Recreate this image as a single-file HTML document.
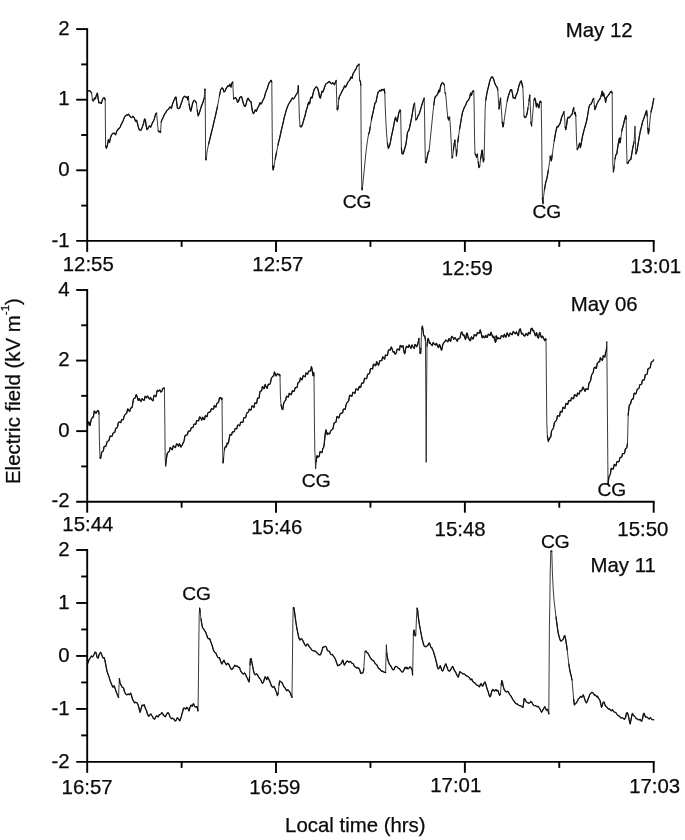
<!DOCTYPE html>
<html><head><meta charset="utf-8"><title>Electric field</title>
<style>html,body{margin:0;padding:0;background:#fff}svg{display:block}</style></head>
<body>
<svg width="685" height="840" viewBox="0 0 685 840">
<rect width="100%" height="100%" fill="#fff"/>
<g font-family="Liberation Sans, Arial, Helvetica, sans-serif" font-size="20.4" fill="#0a0a0a" stroke="#0a0a0a" stroke-width="0.25">
<line x1="87.20" y1="28.15" x2="87.20" y2="251.90" stroke="#000" stroke-width="1.9"/>
<line x1="76.20" y1="240.90" x2="654.65" y2="240.90" stroke="#000" stroke-width="1.9"/>
<line x1="76.20" y1="29.10" x2="87.20" y2="29.10" stroke="#000" stroke-width="1.9"/>
<text x="69.6" y="34.8" text-anchor="end">2</text>
<line x1="81.20" y1="64.40" x2="87.20" y2="64.40" stroke="#000" stroke-width="1.9"/>
<line x1="76.20" y1="99.70" x2="87.20" y2="99.70" stroke="#000" stroke-width="1.9"/>
<text x="69.6" y="105.4" text-anchor="end">1</text>
<line x1="81.20" y1="135.00" x2="87.20" y2="135.00" stroke="#000" stroke-width="1.9"/>
<line x1="76.20" y1="170.30" x2="87.20" y2="170.30" stroke="#000" stroke-width="1.9"/>
<text x="69.6" y="176.0" text-anchor="end">0</text>
<line x1="81.20" y1="205.60" x2="87.20" y2="205.60" stroke="#000" stroke-width="1.9"/>
<text x="69.6" y="246.6" text-anchor="end">-1</text>
<text x="62.77" y="271.40">12:55</text>
<line x1="181.62" y1="240.90" x2="181.62" y2="246.90" stroke="#000" stroke-width="1.9"/>
<line x1="276.03" y1="240.90" x2="276.03" y2="251.90" stroke="#000" stroke-width="1.9"/>
<text x="252.37" y="271.40">12:57</text>
<line x1="370.45" y1="240.90" x2="370.45" y2="246.90" stroke="#000" stroke-width="1.9"/>
<line x1="464.87" y1="240.90" x2="464.87" y2="251.90" stroke="#000" stroke-width="1.9"/>
<text x="441.87" y="274.70">12:59</text>
<line x1="559.28" y1="240.90" x2="559.28" y2="246.90" stroke="#000" stroke-width="1.9"/>
<line x1="653.70" y1="240.90" x2="653.70" y2="251.90" stroke="#000" stroke-width="1.9"/>
<text x="630.17" y="273.00">13:01</text>
<text x="565.77" y="37.20">May 12</text>
<path d="M88.0 91.0 L88.5 90.9 L89.0 90.8 L89.4 90.7 L89.8 90.7 L90.2 91.1 L90.6 91.5 L91.1 92.3 L91.6 93.0 L92.4 100.0 L92.9 100.4 L93.4 101.1 L93.9 99.7 L94.4 98.0 L94.9 98.4 L95.4 98.9 L95.9 97.0 L96.4 95.1 L96.9 94.1 L97.4 93.0 L98.2 99.0 L99.0 103.0 L99.4 102.7 L99.8 102.6 L100.2 102.5 L100.6 103.1 L101.0 103.2 L101.4 103.4 L101.8 101.9 L102.2 100.6 L102.6 99.2 L103.1 98.6 L103.6 97.9 L104.1 97.8 L104.6 97.9 L104.9 99.0 L105.2 100.0 L105.6 146.0 L106.0 147.1 L106.4 148.4 L106.9 146.8 L107.4 145.2 L107.9 142.6 L108.4 139.7 L108.9 141.1 L109.4 142.5 L109.9 140.5 L110.4 138.1 L110.8 136.9 L111.2 135.7 L111.6 134.8 L111.9 134.4 L112.3 134.0 L112.7 133.6 L113.0 133.2 L113.3 133.5 L113.7 133.4 L114.1 133.3 L114.4 133.2 L114.8 133.8 L115.2 134.3 L115.6 134.8 L116.1 133.5 L116.6 131.7 L116.9 131.0 L117.3 130.5 L117.7 129.9 L118.0 129.2 L118.3 128.9 L118.7 128.6 L119.1 128.4 L119.4 128.3 L119.8 127.6 L120.2 127.0 L120.6 126.1 L120.9 125.2 L121.3 124.3 L121.7 123.6 L122.0 123.0 L122.3 122.4 L122.7 121.7 L123.1 120.8 L123.4 119.9 L123.8 118.8 L124.2 117.9 L124.6 116.9 L124.9 116.5 L125.3 116.1 L125.7 115.7 L126.0 115.2 L126.3 115.2 L126.7 115.1 L127.1 115.2 L127.4 115.4 L127.9 114.8 L128.4 114.2 L128.9 115.0 L129.4 115.5 L129.8 115.8 L130.2 116.4 L130.6 117.1 L130.9 117.3 L131.3 117.5 L131.7 117.5 L132.0 117.4 L132.5 116.7 L133.0 116.1 L133.3 116.9 L133.7 117.3 L134.1 117.6 L134.4 118.1 L134.8 119.2 L135.2 120.3 L135.6 121.3 L136.1 120.7 L136.6 120.2 L137.1 122.1 L137.6 124.0 L138.1 126.2 L138.6 128.1 L139.1 129.1 L139.6 130.2 L139.9 130.2 L140.3 130.2 L140.7 130.2 L141.0 130.2 L141.3 129.5 L141.7 128.5 L142.1 127.5 L142.4 126.8 L142.8 125.6 L143.2 124.5 L143.6 123.4 L144.1 121.0 L144.6 118.9 L145.0 119.3 L145.4 120.0 L146.2 126.0 L146.6 127.7 L147.0 129.6 L147.4 129.1 L147.8 128.7 L148.2 128.2 L148.6 127.3 L149.0 126.5 L149.4 125.8 L149.8 126.3 L150.2 126.7 L150.6 127.2 L150.9 126.6 L151.3 125.6 L151.7 124.7 L152.0 123.8 L152.3 123.0 L152.7 122.3 L153.1 121.7 L153.4 121.1 L153.8 120.2 L154.2 119.3 L154.6 118.1 L155.0 116.3 L155.4 114.8 L155.8 113.5 L156.2 113.5 L156.6 113.0 L157.4 122.0 L158.2 131.0 L158.6 131.3 L159.0 132.0 L159.5 131.8 L160.0 131.1 L160.6 132.4 L161.2 122.0 L161.7 120.4 L162.2 119.1 L162.6 118.5 L163.0 117.7 L163.4 116.9 L163.8 115.8 L164.2 114.9 L164.6 114.0 L164.9 113.6 L165.3 113.1 L165.7 112.7 L166.0 112.1 L166.3 111.4 L166.7 110.8 L167.1 110.4 L167.4 110.0 L167.8 109.7 L168.2 109.5 L168.6 109.2 L168.9 108.5 L169.3 107.8 L169.7 107.2 L170.0 106.8 L170.3 107.2 L170.7 107.6 L171.1 108.0 L171.4 108.4 L171.8 106.8 L172.2 105.2 L172.6 103.7 L172.9 102.8 L173.3 102.0 L173.7 101.1 L174.0 100.3 L174.5 99.2 L175.0 97.8 L175.5 97.3 L176.0 97.0 L176.6 102.0 L177.4 108.0 L177.8 108.0 L178.2 108.3 L178.6 108.6 L179.0 108.5 L179.4 108.2 L179.8 107.8 L180.2 106.4 L180.6 105.2 L181.0 104.0 L181.3 103.2 L181.7 102.3 L182.1 101.2 L182.4 99.9 L182.8 98.7 L183.2 97.8 L183.6 97.0 L184.0 96.8 L184.4 96.7 L184.8 96.1 L185.2 96.5 L185.6 96.9 L186.0 97.4 L186.5 97.2 L187.0 97.0 L187.4 98.7 L187.8 100.0 L188.4 96.4 L189.0 104.0 L189.5 106.4 L190.0 109.0 L190.4 110.1 L190.8 111.2 L191.3 109.1 L191.8 107.0 L192.2 105.2 L192.6 103.5 L193.0 102.0 L193.4 101.4 L193.8 100.8 L194.2 100.2 L194.6 100.6 L195.0 100.9 L195.4 101.3 L195.9 102.2 L196.4 103.0 L197.2 110.0 L198.2 116.0 L198.6 114.8 L199.0 114.0 L199.4 112.8 L199.8 111.6 L200.2 110.3 L200.5 109.1 L200.9 107.9 L201.2 106.7 L201.6 105.7 L201.9 104.8 L202.3 103.9 L202.7 103.1 L203.0 102.2 L203.4 101.0 L203.8 99.4 L204.2 98.0 L204.8 89.0 L205.2 90.0 L205.6 158.0 L206.2 160.0 L207.0 152.0 L208.6 144.0 L209.0 142.3 L209.4 140.8 L209.8 139.4 L210.2 137.7 L210.6 136.0 L211.0 134.2 L211.4 132.5 L211.8 130.9 L212.2 129.3 L212.6 127.8 L213.0 126.2 L213.4 124.4 L213.8 122.6 L214.2 120.8 L214.6 119.2 L215.0 117.7 L215.4 116.1 L215.8 114.2 L216.3 112.0 L216.7 109.8 L217.2 108.0 L217.6 106.0 L219.4 96.0 L220.6 90.0 L220.9 89.3 L221.3 88.8 L221.7 88.3 L222.0 87.8 L222.0 87.8 L222.5 88.3 L223.0 88.8 L223.5 90.4 L224.0 92.0 L224.5 91.6 L225.0 91.2 L225.5 90.0 L226.0 88.7 L226.5 87.9 L227.0 87.1 L227.5 86.5 L228.0 85.6 L228.5 85.9 L229.0 86.3 L229.5 85.2 L230.0 84.1 L230.5 85.7 L231.0 87.2 L231.5 84.9 L232.0 82.8 L232.4 82.4 L232.8 82.0 L233.2 92.0 L233.6 99.0 L234.1 98.4 L234.6 98.1 L235.1 98.1 L235.6 97.7 L236.0 98.3 L236.4 98.9 L236.8 99.7 L237.2 101.1 L237.6 102.4 L238.1 101.9 L238.6 101.2 L239.1 99.5 L239.6 97.8 L240.1 97.3 L240.6 96.9 L241.1 96.8 L241.6 96.6 L242.0 98.4 L242.4 100.0 L242.9 101.5 L243.4 103.5 L243.9 104.9 L244.4 106.2 L244.9 106.4 L245.4 106.4 L245.8 104.9 L246.2 103.8 L246.6 101.9 L247.0 100.1 L247.5 99.3 L248.0 98.1 L248.5 98.9 L249.0 99.9 L249.5 100.6 L250.0 101.2 L250.5 101.3 L251.0 101.6 L251.6 106.0 L252.4 111.0 L252.9 112.2 L253.4 113.7 L253.9 113.1 L254.4 112.0 L254.9 110.7 L255.4 109.9 L255.9 110.6 L256.4 111.3 L256.8 110.1 L257.2 108.9 L257.6 107.8 L258.0 107.3 L258.4 106.7 L258.8 106.1 L259.2 105.1 L259.6 103.9 L260.0 102.7 L260.5 103.4 L261.0 104.1 L261.5 103.4 L262.0 102.5 L262.4 101.4 L262.8 100.5 L263.2 99.8 L263.6 99.0 L264.0 98.2 L264.4 97.4 L264.8 95.8 L265.2 94.2 L265.6 92.7 L266.1 91.5 L266.5 90.3 L267.0 89.2 L267.5 88.0 L267.9 86.4 L268.4 84.8 L268.8 83.7 L269.2 82.9 L269.6 82.0 L270.1 81.7 L270.5 81.2 L271.0 80.2 L271.4 80.9 L271.8 82.0 L272.2 130.0 L272.6 166.0 L273.2 170.0 L273.6 167.9 L274.0 166.0 L275.2 159.0 L275.6 157.1 L275.9 155.5 L276.2 154.0 L276.6 152.0 L278.0 145.0 L278.4 143.0 L278.8 141.4 L279.2 139.8 L279.6 138.3 L280.0 136.5 L280.4 134.6 L280.8 132.6 L281.2 130.7 L281.6 129.1 L282.0 127.5 L282.4 125.8 L282.8 124.2 L283.2 122.4 L283.6 120.5 L284.0 118.6 L284.4 116.9 L284.8 115.5 L285.2 114.1 L285.6 112.7 L286.0 111.1 L286.5 109.6 L286.9 108.2 L287.4 106.9 L287.8 106.0 L288.2 105.1 L288.6 104.2 L289.1 103.3 L289.5 102.5 L290.0 102.0 L290.4 101.4 L290.8 100.9 L291.2 100.0 L291.6 99.1 L292.0 98.5 L292.4 98.0 L292.8 98.5 L293.2 98.8 L293.6 98.9 L294.0 98.2 L294.4 97.7 L294.8 97.1 L295.2 96.5 L295.6 95.6 L296.0 94.8 L296.4 94.3 L296.8 93.7 L297.2 93.2 L297.6 92.1 L298.0 91.0 L298.4 85.6 L298.8 98.0 L299.4 118.0 L300.0 126.0 L300.5 126.4 L301.0 127.1 L301.5 126.5 L302.0 125.7 L302.5 124.2 L303.0 122.7 L303.5 120.9 L304.0 119.0 L304.4 117.8 L304.8 116.6 L305.2 115.0 L305.6 113.2 L306.0 111.5 L306.4 110.0 L306.8 108.8 L307.2 107.5 L307.6 106.0 L308.1 104.0 L308.6 102.3 L309.1 103.3 L309.6 104.0 L310.4 99.0 L310.8 97.9 L311.2 97.1 L311.6 97.8 L312.0 98.2 L312.5 96.0 L313.0 93.8 L313.5 91.8 L314.0 90.0 L314.5 89.1 L315.0 88.2 L315.5 87.6 L316.0 86.9 L316.4 87.0 L316.8 87.3 L317.2 87.6 L317.6 88.4 L318.0 89.2 L318.4 91.0 L318.8 92.7 L319.2 94.9 L319.6 97.1 L320.0 97.7 L320.4 98.1 L320.8 96.3 L321.2 94.7 L321.6 92.9 L322.0 91.1 L322.5 91.7 L323.0 92.0 L323.5 90.3 L324.0 89.0 L324.5 87.4 L325.0 85.8 L325.5 84.8 L326.0 83.7 L326.4 83.5 L326.8 83.2 L327.2 83.0 L327.6 82.8 L328.0 82.6 L328.4 82.1 L328.8 81.7 L329.2 81.5 L329.6 81.6 L330.1 82.5 L330.6 83.1 L331.1 83.3 L331.6 83.9 L332.1 83.3 L332.6 82.7 L333.1 83.2 L333.6 83.7 L334.0 84.2 L334.4 84.8 L334.9 83.5 L335.4 82.2 L335.8 81.5 L336.2 80.4 L336.6 96.0 L337.0 109.0 L337.3 109.3 L337.6 110.0 L338.2 106.0 L338.8 99.0 L339.2 97.4 L339.6 96.0 L340.1 95.1 L340.6 94.2 L341.1 93.2 L341.6 92.2 L342.1 91.1 L342.6 90.1 L343.1 89.4 L343.6 88.5 L344.1 87.1 L344.6 85.8 L345.1 86.4 L345.6 87.1 L346.1 86.2 L346.6 85.1 L347.1 83.9 L347.6 82.7 L348.0 82.2 L348.4 81.6 L348.8 81.1 L349.2 80.7 L349.6 80.4 L350.0 79.6 L350.5 78.0 L351.0 76.9 L351.5 77.7 L352.0 78.3 L352.5 76.0 L353.0 73.8 L353.5 72.9 L354.0 72.3 L354.5 71.3 L355.0 70.3 L355.5 69.8 L356.0 69.0 L356.5 67.4 L357.0 66.2 L357.5 65.7 L358.0 65.2 L358.5 64.9 L359.0 64.0 L359.0 65.0 L359.6 80.0 L360.0 80.7 L360.4 81.6 L360.8 85.0 L361.2 150.0 L361.8 188.0 L362.2 190.0 L363.0 182.0 L364.0 172.0 L365.0 162.0 L366.2 150.0 L367.4 141.0 L368.6 134.0 L369.0 132.9 L369.4 132.0 L370.2 127.0 L371.4 120.0 L371.8 117.9 L372.2 116.0 L372.6 114.1 L373.1 112.2 L373.5 110.1 L374.0 107.9 L374.5 105.3 L375.0 102.9 L375.5 102.6 L376.0 102.2 L376.5 99.5 L377.0 96.9 L377.5 94.7 L378.0 92.6 L378.5 92.0 L379.0 91.4 L379.5 90.7 L380.0 90.1 L380.5 90.7 L381.0 91.1 L381.5 90.1 L382.0 89.3 L382.5 89.7 L383.0 90.2 L383.4 90.0 L383.8 89.5 L384.2 89.0 L384.8 93.0 L385.2 106.0 L385.8 120.0 L386.6 134.0 L387.4 143.0 L388.4 148.4 L388.9 147.1 L389.4 146.1 L389.9 144.3 L390.4 142.2 L390.8 139.9 L391.2 137.7 L391.6 135.7 L392.1 133.4 L392.6 131.1 L393.1 128.7 L393.6 126.2 L394.1 123.5 L394.6 120.8 L395.1 118.9 L395.6 117.1 L396.0 118.7 L396.4 120.0 L396.8 120.7 L397.2 121.6 L398.0 117.0 L398.5 114.4 L399.0 112.1 L399.5 111.3 L400.0 109.9 L400.3 110.2 L400.6 111.0 L401.0 130.0 L401.4 148.0 L402.0 153.6 L402.5 153.7 L403.0 154.1 L403.5 152.8 L404.0 151.0 L404.5 149.3 L405.0 147.7 L405.5 145.9 L406.0 144.0 L406.8 138.0 L407.6 132.0 L408.1 131.3 L408.6 131.0 L409.1 129.2 L409.6 127.4 L410.1 125.0 L410.6 122.7 L411.1 120.3 L411.6 118.0 L412.6 112.0 L413.6 106.0 L414.1 104.4 L414.6 103.0 L415.2 110.0 L415.8 120.0 L416.3 119.4 L416.8 119.1 L417.3 117.8 L417.8 116.1 L418.3 115.4 L418.8 114.8 L419.3 113.4 L419.8 112.0 L420.2 110.8 L420.6 109.5 L421.0 108.1 L421.4 106.6 L421.8 105.0 L422.2 103.8 L422.6 102.6 L423.0 101.5 L423.4 100.3 L423.8 99.2 L424.2 98.0 L424.6 116.0 L425.0 146.0 L425.4 162.0 L425.7 162.3 L426.0 162.9 L426.5 160.6 L427.0 158.2 L427.5 155.6 L428.0 152.9 L428.5 151.8 L429.0 151.0 L429.8 144.0 L430.6 136.0 L431.4 128.0 L432.2 120.0 L433.0 112.0 L433.8 105.0 L434.6 99.0 L435.0 97.6 L435.4 96.4 L435.8 96.2 L436.2 96.1 L436.6 95.7 L437.0 95.0 L437.4 94.3 L437.8 93.8 L438.3 92.0 L438.8 90.1 L439.2 91.2 L439.6 92.0 L440.4 87.0 L440.9 85.3 L441.4 84.0 L441.9 83.4 L442.4 82.6 L442.9 83.0 L443.4 83.3 L443.9 84.2 L444.4 85.0 L445.0 93.0 L445.3 93.1 L445.6 93.6 L446.2 100.0 L447.0 110.0 L447.8 117.0 L448.2 118.4 L448.6 120.0 L449.1 118.7 L449.6 117.0 L450.2 124.0 L450.8 134.0 L451.4 146.0 L452.0 158.0 L452.3 157.3 L452.6 157.0 L453.4 150.0 L454.2 144.0 L454.6 141.8 L455.0 140.0 L455.8 148.0 L456.4 156.0 L457.0 150.0 L457.8 142.0 L458.6 136.0 L459.6 129.0 L460.6 123.0 L461.6 117.0 L462.1 114.3 L462.6 112.0 L463.1 110.7 L463.6 109.3 L464.1 108.0 L464.6 106.8 L465.1 106.0 L465.6 105.1 L466.1 103.9 L466.6 102.2 L467.1 101.5 L467.6 101.1 L468.1 100.7 L468.6 99.7 L469.1 98.7 L469.6 97.8 L470.1 95.4 L470.6 93.0 L471.0 94.1 L471.4 95.4 L471.8 93.8 L472.2 92.3 L472.6 91.3 L473.0 90.8 L473.4 90.9 L473.8 91.0 L474.2 110.0 L474.6 140.0 L475.0 154.0 L475.4 154.3 L475.8 154.9 L476.2 156.1 L476.6 157.3 L477.0 155.7 L477.4 154.0 L478.2 162.0 L479.0 167.6 L479.4 166.7 L479.8 166.0 L480.6 159.0 L481.4 154.0 L481.8 151.9 L482.2 150.0 L482.8 156.0 L483.4 162.0 L483.7 160.3 L484.0 159.0 L484.4 146.0 L484.8 126.0 L485.2 108.0 L485.8 100.0 L486.6 95.0 L487.1 92.4 L487.6 90.0 L488.1 88.2 L488.6 86.1 L489.1 83.9 L489.6 81.8 L490.1 80.1 L490.6 78.5 L491.1 77.9 L491.6 77.0 L492.1 76.7 L492.6 77.0 L493.1 78.3 L493.6 79.1 L494.1 80.9 L494.6 82.8 L495.1 83.8 L495.5 84.8 L496.0 85.8 L496.0 85.8 L496.5 86.5 L497.0 87.0 L497.4 88.3 L497.8 90.0 L498.4 100.0 L499.0 109.0 L499.8 104.0 L500.6 98.0 L501.4 110.0 L502.2 122.0 L503.0 127.0 L503.4 124.8 L503.8 123.0 L504.8 116.0 L506.0 108.0 L507.2 101.0 L507.6 99.2 L508.0 97.6 L508.4 96.0 L508.8 94.8 L509.2 93.6 L509.6 92.2 L510.1 90.9 L510.6 89.7 L511.1 89.6 L511.6 89.6 L512.0 91.5 L512.4 93.0 L513.2 98.0 L513.7 97.6 L514.2 97.6 L514.7 98.2 L515.2 98.6 L515.7 96.7 L516.2 94.8 L516.7 94.0 L517.2 93.1 L517.7 91.1 L518.2 88.9 L518.7 86.8 L519.2 85.0 L519.7 83.7 L520.2 82.1 L520.7 81.4 L521.2 80.8 L521.6 82.4 L522.0 84.0 L522.4 85.6 L522.8 87.0 L523.4 100.0 L524.0 116.0 L524.5 116.7 L525.0 117.6 L525.5 117.5 L526.0 117.1 L526.5 115.4 L527.0 114.0 L528.0 108.0 L529.0 101.0 L529.8 95.0 L530.4 108.0 L531.0 122.0 L531.6 126.0 L532.4 118.0 L533.2 108.0 L534.0 100.0 L534.4 98.9 L534.8 98.0 L535.2 99.6 L535.6 101.0 L536.4 107.0 L536.8 105.1 L537.2 103.5 L537.6 104.3 L538.0 105.2 L538.4 106.8 L538.8 108.0 L539.6 103.0 L540.0 101.8 L540.4 101.0 L540.8 101.9 L541.2 102.4 L541.6 130.0 L542.0 170.0 L542.4 198.0 L543.0 203.6 L543.6 196.4 L544.4 190.0 L545.4 184.0 L545.9 181.9 L546.4 180.1 L546.9 178.3 L547.4 176.0 L548.4 170.0 L549.4 163.0 L550.2 156.0 L550.8 159.0 L551.1 159.8 L551.4 161.0 L552.2 155.0 L553.2 148.0 L554.2 141.0 L555.2 135.0 L555.7 132.4 L556.2 130.0 L556.7 128.1 L557.2 126.3 L557.7 126.6 L558.2 126.9 L558.7 125.7 L559.2 124.9 L559.7 124.0 L560.2 123.2 L560.7 121.2 L561.2 119.0 L561.7 117.2 L562.2 115.9 L562.7 114.9 L563.2 113.8 L563.6 112.7 L564.0 111.6 L564.6 118.0 L565.2 127.0 L565.8 129.6 L566.6 125.0 L567.4 119.0 L567.8 117.9 L568.2 117.1 L568.7 117.6 L569.2 117.9 L569.7 117.1 L570.2 116.4 L570.7 115.8 L571.2 115.1 L571.7 114.4 L572.2 114.0 L573.0 110.0 L573.4 108.7 L573.8 107.6 L574.4 114.0 L574.8 113.1 L575.2 112.4 L575.8 116.0 L576.2 130.0 L576.6 142.0 L577.2 149.6 L577.6 148.9 L578.0 148.4 L578.4 147.1 L578.8 145.7 L579.2 144.6 L579.6 143.0 L580.4 147.6 L580.8 145.6 L581.2 144.0 L582.0 139.0 L582.5 136.4 L583.0 134.1 L583.5 132.3 L584.0 130.1 L584.5 128.4 L585.0 126.8 L585.5 125.0 L586.0 123.1 L586.5 121.3 L587.0 119.0 L588.0 113.0 L589.0 107.0 L589.5 105.6 L590.0 104.5 L590.5 104.4 L591.0 104.1 L591.5 103.1 L592.0 102.2 L592.5 100.6 L593.0 99.0 L593.4 98.8 L593.8 98.4 L594.4 106.0 L595.0 109.6 L595.4 108.2 L595.8 107.0 L596.3 105.6 L596.8 104.2 L597.3 103.3 L597.8 102.3 L598.3 101.2 L598.8 100.4 L599.3 99.8 L599.8 99.3 L600.3 97.9 L600.8 96.7 L601.2 95.4 L601.6 94.1 L601.9 92.7 L602.2 91.0 L602.8 96.0 L603.2 94.3 L603.6 93.0 L604.4 97.0 L604.7 97.3 L605.0 98.0 L605.6 102.4 L606.4 98.0 L606.9 97.1 L607.4 96.5 L607.9 95.9 L608.4 95.2 L608.9 94.4 L609.4 93.7 L609.9 92.9 L610.4 92.1 L610.9 91.8 L611.4 91.2 L611.8 92.0 L612.2 93.0 L612.4 130.0 L612.8 164.0 L613.4 172.0 L614.2 166.0 L615.0 159.0 L615.8 155.0 L616.3 154.4 L616.8 154.0 L617.6 148.0 L618.6 142.0 L619.4 138.0 L620.0 143.0 L620.8 138.0 L621.8 131.0 L622.3 128.9 L622.8 127.1 L623.3 125.3 L623.8 123.1 L624.3 120.8 L624.8 118.8 L625.2 117.5 L625.6 116.1 L625.8 115.6 L626.2 119.0 L626.6 146.0 L627.0 163.0 L627.4 163.1 L627.8 163.6 L628.3 162.5 L628.8 161.2 L629.2 160.7 L629.6 160.2 L630.0 159.8 L630.4 159.7 L630.8 159.6 L631.6 155.0 L632.4 150.0 L632.8 147.8 L633.2 146.0 L634.0 142.0 L634.6 134.0 L635.0 126.0 L635.4 140.0 L635.8 154.0 L636.2 152.8 L636.6 152.0 L637.1 149.6 L637.6 147.0 L638.6 141.0 L639.6 135.0 L640.1 132.4 L640.6 130.0 L641.1 128.2 L641.6 126.2 L642.1 123.9 L642.6 121.7 L643.1 120.4 L643.6 119.1 L644.1 117.7 L644.6 116.1 L645.1 114.7 L645.6 113.3 L646.1 111.8 L646.6 110.4 L647.2 116.0 L647.8 128.0 L648.4 134.0 L649.2 129.0 L650.0 120.0 L651.0 112.0 L651.5 109.8 L652.0 108.0 L652.5 105.7 L653.0 103.0 L653.8 98.4" fill="none" stroke="#161616" stroke-width="0.85" stroke-linejoin="round"/>
<path d="M88.0 91.0 L88.5 90.9 L89.0 90.8 L89.4 90.7 L89.8 90.7 L90.2 91.1 L90.6 91.5 L91.1 92.3 L91.6 93.0 M92.4 100.0 L92.9 100.4 L93.4 101.1 L93.9 99.7 L94.4 98.0 L94.9 98.4 L95.4 98.9 L95.9 97.0 L96.4 95.1 L96.9 94.1 L97.4 93.0 L98.2 99.0 L99.0 103.0 L99.4 102.7 L99.8 102.6 L100.2 102.5 L100.6 103.1 L101.0 103.2 L101.4 103.4 L101.8 101.9 L102.2 100.6 L102.6 99.2 L103.1 98.6 L103.6 97.9 L104.1 97.8 L104.6 97.9 L104.9 99.0 L105.2 100.0 M105.6 146.0 L106.0 147.1 L106.4 148.4 L106.9 146.8 L107.4 145.2 L107.9 142.6 L108.4 139.7 L108.9 141.1 L109.4 142.5 L109.9 140.5 L110.4 138.1 L110.8 136.9 L111.2 135.7 L111.6 134.8 L111.9 134.4 L112.3 134.0 L112.7 133.6 L113.0 133.2 L113.3 133.5 L113.7 133.4 L114.1 133.3 L114.4 133.2 L114.8 133.8 L115.2 134.3 L115.6 134.8 L116.1 133.5 L116.6 131.7 L116.9 131.0 L117.3 130.5 L117.7 129.9 L118.0 129.2 L118.3 128.9 L118.7 128.6 L119.1 128.4 L119.4 128.3 L119.8 127.6 L120.2 127.0 L120.6 126.1 L120.9 125.2 L121.3 124.3 L121.7 123.6 L122.0 123.0 L122.3 122.4 L122.7 121.7 L123.1 120.8 L123.4 119.9 L123.8 118.8 L124.2 117.9 L124.6 116.9 L124.9 116.5 L125.3 116.1 L125.7 115.7 L126.0 115.2 L126.3 115.2 L126.7 115.1 L127.1 115.2 L127.4 115.4 L127.9 114.8 L128.4 114.2 L128.9 115.0 L129.4 115.5 L129.8 115.8 L130.2 116.4 L130.6 117.1 L130.9 117.3 L131.3 117.5 L131.7 117.5 L132.0 117.4 L132.5 116.7 L133.0 116.1 L133.3 116.9 L133.7 117.3 L134.1 117.6 L134.4 118.1 L134.8 119.2 L135.2 120.3 L135.6 121.3 L136.1 120.7 L136.6 120.2 L137.1 122.1 L137.6 124.0 L138.1 126.2 L138.6 128.1 L139.1 129.1 L139.6 130.2 L139.9 130.2 L140.3 130.2 L140.7 130.2 L141.0 130.2 L141.3 129.5 L141.7 128.5 L142.1 127.5 L142.4 126.8 L142.8 125.6 L143.2 124.5 L143.6 123.4 L144.1 121.0 L144.6 118.9 L145.0 119.3 L145.4 120.0 L146.2 126.0 L146.6 127.7 L147.0 129.6 L147.4 129.1 L147.8 128.7 L148.2 128.2 L148.6 127.3 L149.0 126.5 L149.4 125.8 L149.8 126.3 L150.2 126.7 L150.6 127.2 L150.9 126.6 L151.3 125.6 L151.7 124.7 L152.0 123.8 L152.3 123.0 L152.7 122.3 L153.1 121.7 L153.4 121.1 L153.8 120.2 L154.2 119.3 L154.6 118.1 L155.0 116.3 L155.4 114.8 L155.8 113.5 L156.2 113.5 L156.6 113.0 M158.2 131.0 L158.6 131.3 L159.0 132.0 L159.5 131.8 L160.0 131.1 L160.6 132.4 M161.2 122.0 L161.7 120.4 L162.2 119.1 L162.6 118.5 L163.0 117.7 L163.4 116.9 L163.8 115.8 L164.2 114.9 L164.6 114.0 L164.9 113.6 L165.3 113.1 L165.7 112.7 L166.0 112.1 L166.3 111.4 L166.7 110.8 L167.1 110.4 L167.4 110.0 L167.8 109.7 L168.2 109.5 L168.6 109.2 L168.9 108.5 L169.3 107.8 L169.7 107.2 L170.0 106.8 L170.3 107.2 L170.7 107.6 L171.1 108.0 L171.4 108.4 L171.8 106.8 L172.2 105.2 L172.6 103.7 L172.9 102.8 L173.3 102.0 L173.7 101.1 L174.0 100.3 L174.5 99.2 L175.0 97.8 L175.5 97.3 L176.0 97.0 L176.6 102.0 L177.4 108.0 L177.8 108.0 L178.2 108.3 L178.6 108.6 L179.0 108.5 L179.4 108.2 L179.8 107.8 L180.2 106.4 L180.6 105.2 L181.0 104.0 L181.3 103.2 L181.7 102.3 L182.1 101.2 L182.4 99.9 L182.8 98.7 L183.2 97.8 L183.6 97.0 L184.0 96.8 L184.4 96.7 L184.8 96.1 L185.2 96.5 L185.6 96.9 L186.0 97.4 L186.5 97.2 L187.0 97.0 L187.4 98.7 L187.8 100.0 L188.4 96.4 M189.0 104.0 L189.5 106.4 L190.0 109.0 L190.4 110.1 L190.8 111.2 L191.3 109.1 L191.8 107.0 L192.2 105.2 L192.6 103.5 L193.0 102.0 L193.4 101.4 L193.8 100.8 L194.2 100.2 L194.6 100.6 L195.0 100.9 L195.4 101.3 L195.9 102.2 L196.4 103.0 M197.2 110.0 L198.2 116.0 L198.6 114.8 L199.0 114.0 L199.4 112.8 L199.8 111.6 L200.2 110.3 L200.5 109.1 L200.9 107.9 L201.2 106.7 L201.6 105.7 L201.9 104.8 L202.3 103.9 L202.7 103.1 L203.0 102.2 L203.4 101.0 L203.8 99.4 L204.2 98.0 M204.8 89.0 L205.2 90.0 M205.6 158.0 L206.2 160.0 M208.6 144.0 L209.0 142.3 L209.4 140.8 L209.8 139.4 L210.2 137.7 L210.6 136.0 L211.0 134.2 L211.4 132.5 L211.8 130.9 L212.2 129.3 L212.6 127.8 L213.0 126.2 L213.4 124.4 L213.8 122.6 L214.2 120.8 L214.6 119.2 L215.0 117.7 L215.4 116.1 L215.8 114.2 L216.3 112.0 L216.7 109.8 L217.2 108.0 L217.6 106.0 M219.4 96.0 L220.6 90.0 L220.9 89.3 L221.3 88.8 L221.7 88.3 L222.0 87.8 L222.0 87.8 L222.5 88.3 L223.0 88.8 L223.5 90.4 L224.0 92.0 L224.5 91.6 L225.0 91.2 L225.5 90.0 L226.0 88.7 L226.5 87.9 L227.0 87.1 L227.5 86.5 L228.0 85.6 L228.5 85.9 L229.0 86.3 L229.5 85.2 L230.0 84.1 L230.5 85.7 L231.0 87.2 L231.5 84.9 L232.0 82.8 L232.4 82.4 L232.8 82.0 M233.6 99.0 L234.1 98.4 L234.6 98.1 L235.1 98.1 L235.6 97.7 L236.0 98.3 L236.4 98.9 L236.8 99.7 L237.2 101.1 L237.6 102.4 L238.1 101.9 L238.6 101.2 L239.1 99.5 L239.6 97.8 L240.1 97.3 L240.6 96.9 L241.1 96.8 L241.6 96.6 L242.0 98.4 L242.4 100.0 L242.9 101.5 L243.4 103.5 L243.9 104.9 L244.4 106.2 L244.9 106.4 L245.4 106.4 L245.8 104.9 L246.2 103.8 L246.6 101.9 L247.0 100.1 L247.5 99.3 L248.0 98.1 L248.5 98.9 L249.0 99.9 L249.5 100.6 L250.0 101.2 L250.5 101.3 L251.0 101.6 L251.6 106.0 L252.4 111.0 L252.9 112.2 L253.4 113.7 L253.9 113.1 L254.4 112.0 L254.9 110.7 L255.4 109.9 L255.9 110.6 L256.4 111.3 L256.8 110.1 L257.2 108.9 L257.6 107.8 L258.0 107.3 L258.4 106.7 L258.8 106.1 L259.2 105.1 L259.6 103.9 L260.0 102.7 L260.5 103.4 L261.0 104.1 L261.5 103.4 L262.0 102.5 L262.4 101.4 L262.8 100.5 L263.2 99.8 L263.6 99.0 L264.0 98.2 L264.4 97.4 L264.8 95.8 L265.2 94.2 L265.6 92.7 L266.1 91.5 L266.5 90.3 L267.0 89.2 L267.5 88.0 L267.9 86.4 L268.4 84.8 L268.8 83.7 L269.2 82.9 L269.6 82.0 L270.1 81.7 L270.5 81.2 L271.0 80.2 L271.4 80.9 L271.8 82.0 M272.6 166.0 L273.2 170.0 L273.6 167.9 L274.0 166.0 M275.2 159.0 L275.6 157.1 L275.9 155.5 L276.2 154.0 L276.6 152.0 M278.0 145.0 L278.4 143.0 L278.8 141.4 L279.2 139.8 L279.6 138.3 L280.0 136.5 L280.4 134.6 L280.8 132.6 L281.2 130.7 L281.6 129.1 L282.0 127.5 L282.4 125.8 L282.8 124.2 L283.2 122.4 L283.6 120.5 L284.0 118.6 L284.4 116.9 L284.8 115.5 L285.2 114.1 L285.6 112.7 L286.0 111.1 L286.5 109.6 L286.9 108.2 L287.4 106.9 L287.8 106.0 L288.2 105.1 L288.6 104.2 L289.1 103.3 L289.5 102.5 L290.0 102.0 L290.4 101.4 L290.8 100.9 L291.2 100.0 L291.6 99.1 L292.0 98.5 L292.4 98.0 L292.8 98.5 L293.2 98.8 L293.6 98.9 L294.0 98.2 L294.4 97.7 L294.8 97.1 L295.2 96.5 L295.6 95.6 L296.0 94.8 L296.4 94.3 L296.8 93.7 L297.2 93.2 L297.6 92.1 L298.0 91.0 L298.4 85.6 M300.0 126.0 L300.5 126.4 L301.0 127.1 L301.5 126.5 L302.0 125.7 L302.5 124.2 L303.0 122.7 L303.5 120.9 L304.0 119.0 L304.4 117.8 L304.8 116.6 L305.2 115.0 L305.6 113.2 L306.0 111.5 L306.4 110.0 L306.8 108.8 L307.2 107.5 L307.6 106.0 L308.1 104.0 L308.6 102.3 L309.1 103.3 L309.6 104.0 L310.4 99.0 L310.8 97.9 L311.2 97.1 L311.6 97.8 L312.0 98.2 L312.5 96.0 L313.0 93.8 L313.5 91.8 L314.0 90.0 L314.5 89.1 L315.0 88.2 L315.5 87.6 L316.0 86.9 L316.4 87.0 L316.8 87.3 L317.2 87.6 L317.6 88.4 L318.0 89.2 L318.4 91.0 L318.8 92.7 L319.2 94.9 L319.6 97.1 L320.0 97.7 L320.4 98.1 L320.8 96.3 L321.2 94.7 L321.6 92.9 L322.0 91.1 L322.5 91.7 L323.0 92.0 L323.5 90.3 L324.0 89.0 L324.5 87.4 L325.0 85.8 L325.5 84.8 L326.0 83.7 L326.4 83.5 L326.8 83.2 L327.2 83.0 L327.6 82.8 L328.0 82.6 L328.4 82.1 L328.8 81.7 L329.2 81.5 L329.6 81.6 L330.1 82.5 L330.6 83.1 L331.1 83.3 L331.6 83.9 L332.1 83.3 L332.6 82.7 L333.1 83.2 L333.6 83.7 L334.0 84.2 L334.4 84.8 L334.9 83.5 L335.4 82.2 L335.8 81.5 L336.2 80.4 M337.0 109.0 L337.3 109.3 L337.6 110.0 L338.2 106.0 M338.8 99.0 L339.2 97.4 L339.6 96.0 L340.1 95.1 L340.6 94.2 L341.1 93.2 L341.6 92.2 L342.1 91.1 L342.6 90.1 L343.1 89.4 L343.6 88.5 L344.1 87.1 L344.6 85.8 L345.1 86.4 L345.6 87.1 L346.1 86.2 L346.6 85.1 L347.1 83.9 L347.6 82.7 L348.0 82.2 L348.4 81.6 L348.8 81.1 L349.2 80.7 L349.6 80.4 L350.0 79.6 L350.5 78.0 L351.0 76.9 L351.5 77.7 L352.0 78.3 L352.5 76.0 L353.0 73.8 L353.5 72.9 L354.0 72.3 L354.5 71.3 L355.0 70.3 L355.5 69.8 L356.0 69.0 L356.5 67.4 L357.0 66.2 L357.5 65.7 L358.0 65.2 L358.5 64.9 L359.0 64.0 L359.0 65.0 M359.6 80.0 L360.0 80.7 L360.4 81.6 L360.8 85.0 M361.8 188.0 L362.2 190.0 M368.6 134.0 L369.0 132.9 L369.4 132.0 L370.2 127.0 M371.4 120.0 L371.8 117.9 L372.2 116.0 L372.6 114.1 L373.1 112.2 L373.5 110.1 L374.0 107.9 L374.5 105.3 L375.0 102.9 L375.5 102.6 L376.0 102.2 L376.5 99.5 L377.0 96.9 L377.5 94.7 L378.0 92.6 L378.5 92.0 L379.0 91.4 L379.5 90.7 L380.0 90.1 L380.5 90.7 L381.0 91.1 L381.5 90.1 L382.0 89.3 L382.5 89.7 L383.0 90.2 L383.4 90.0 L383.8 89.5 L384.2 89.0 L384.8 93.0 M387.4 143.0 L388.4 148.4 L388.9 147.1 L389.4 146.1 L389.9 144.3 L390.4 142.2 L390.8 139.9 L391.2 137.7 L391.6 135.7 L392.1 133.4 L392.6 131.1 L393.1 128.7 L393.6 126.2 L394.1 123.5 L394.6 120.8 L395.1 118.9 L395.6 117.1 L396.0 118.7 L396.4 120.0 L396.8 120.7 L397.2 121.6 L398.0 117.0 L398.5 114.4 L399.0 112.1 L399.5 111.3 L400.0 109.9 L400.3 110.2 L400.6 111.0 M401.4 148.0 L402.0 153.6 L402.5 153.7 L403.0 154.1 L403.5 152.8 L404.0 151.0 L404.5 149.3 L405.0 147.7 L405.5 145.9 L406.0 144.0 L406.8 138.0 L407.6 132.0 L408.1 131.3 L408.6 131.0 L409.1 129.2 L409.6 127.4 L410.1 125.0 L410.6 122.7 L411.1 120.3 L411.6 118.0 L412.6 112.0 L413.6 106.0 L414.1 104.4 L414.6 103.0 M415.8 120.0 L416.3 119.4 L416.8 119.1 L417.3 117.8 L417.8 116.1 L418.3 115.4 L418.8 114.8 L419.3 113.4 L419.8 112.0 L420.2 110.8 L420.6 109.5 L421.0 108.1 L421.4 106.6 L421.8 105.0 L422.2 103.8 L422.6 102.6 L423.0 101.5 L423.4 100.3 L423.8 99.2 L424.2 98.0 M425.4 162.0 L425.7 162.3 L426.0 162.9 L426.5 160.6 L427.0 158.2 L427.5 155.6 L428.0 152.9 L428.5 151.8 L429.0 151.0 M433.8 105.0 L434.6 99.0 L435.0 97.6 L435.4 96.4 L435.8 96.2 L436.2 96.1 L436.6 95.7 L437.0 95.0 L437.4 94.3 L437.8 93.8 L438.3 92.0 L438.8 90.1 L439.2 91.2 L439.6 92.0 L440.4 87.0 L440.9 85.3 L441.4 84.0 L441.9 83.4 L442.4 82.6 L442.9 83.0 L443.4 83.3 L443.9 84.2 L444.4 85.0 M445.0 93.0 L445.3 93.1 L445.6 93.6 M447.8 117.0 L448.2 118.4 L448.6 120.0 L449.1 118.7 L449.6 117.0 M452.0 158.0 L452.3 157.3 L452.6 157.0 M453.4 150.0 L454.2 144.0 L454.6 141.8 L455.0 140.0 M456.4 156.0 L457.0 150.0 M457.8 142.0 L458.6 136.0 M459.6 129.0 L460.6 123.0 L461.6 117.0 L462.1 114.3 L462.6 112.0 L463.1 110.7 L463.6 109.3 L464.1 108.0 L464.6 106.8 L465.1 106.0 L465.6 105.1 L466.1 103.9 L466.6 102.2 L467.1 101.5 L467.6 101.1 L468.1 100.7 L468.6 99.7 L469.1 98.7 L469.6 97.8 L470.1 95.4 L470.6 93.0 L471.0 94.1 L471.4 95.4 L471.8 93.8 L472.2 92.3 L472.6 91.3 L473.0 90.8 L473.4 90.9 L473.8 91.0 M475.0 154.0 L475.4 154.3 L475.8 154.9 L476.2 156.1 L476.6 157.3 L477.0 155.7 L477.4 154.0 M478.2 162.0 L479.0 167.6 L479.4 166.7 L479.8 166.0 M480.6 159.0 L481.4 154.0 L481.8 151.9 L482.2 150.0 L482.8 156.0 L483.4 162.0 L483.7 160.3 L484.0 159.0 M485.8 100.0 L486.6 95.0 L487.1 92.4 L487.6 90.0 L488.1 88.2 L488.6 86.1 L489.1 83.9 L489.6 81.8 L490.1 80.1 L490.6 78.5 L491.1 77.9 L491.6 77.0 L492.1 76.7 L492.6 77.0 L493.1 78.3 L493.6 79.1 L494.1 80.9 L494.6 82.8 L495.1 83.8 L495.5 84.8 L496.0 85.8 L496.0 85.8 L496.5 86.5 L497.0 87.0 L497.4 88.3 L497.8 90.0 M499.0 109.0 L499.8 104.0 L500.6 98.0 M502.2 122.0 L503.0 127.0 L503.4 124.8 L503.8 123.0 M507.2 101.0 L507.6 99.2 L508.0 97.6 L508.4 96.0 L508.8 94.8 L509.2 93.6 L509.6 92.2 L510.1 90.9 L510.6 89.7 L511.1 89.6 L511.6 89.6 L512.0 91.5 L512.4 93.0 L513.2 98.0 L513.7 97.6 L514.2 97.6 L514.7 98.2 L515.2 98.6 L515.7 96.7 L516.2 94.8 L516.7 94.0 L517.2 93.1 L517.7 91.1 L518.2 88.9 L518.7 86.8 L519.2 85.0 L519.7 83.7 L520.2 82.1 L520.7 81.4 L521.2 80.8 L521.6 82.4 L522.0 84.0 L522.4 85.6 L522.8 87.0 M524.0 116.0 L524.5 116.7 L525.0 117.6 L525.5 117.5 L526.0 117.1 L526.5 115.4 L527.0 114.0 L528.0 108.0 M529.0 101.0 L529.8 95.0 M531.0 122.0 L531.6 126.0 M534.0 100.0 L534.4 98.9 L534.8 98.0 L535.2 99.6 L535.6 101.0 L536.4 107.0 L536.8 105.1 L537.2 103.5 L537.6 104.3 L538.0 105.2 L538.4 106.8 L538.8 108.0 L539.6 103.0 L540.0 101.8 L540.4 101.0 L540.8 101.9 L541.2 102.4 M542.4 198.0 L543.0 203.6 M544.4 190.0 L545.4 184.0 L545.9 181.9 L546.4 180.1 L546.9 178.3 L547.4 176.0 L548.4 170.0 M550.2 156.0 L550.8 159.0 L551.1 159.8 L551.4 161.0 L552.2 155.0 M554.2 141.0 L555.2 135.0 L555.7 132.4 L556.2 130.0 L556.7 128.1 L557.2 126.3 L557.7 126.6 L558.2 126.9 L558.7 125.7 L559.2 124.9 L559.7 124.0 L560.2 123.2 L560.7 121.2 L561.2 119.0 L561.7 117.2 L562.2 115.9 L562.7 114.9 L563.2 113.8 L563.6 112.7 L564.0 111.6 M565.2 127.0 L565.8 129.6 L566.6 125.0 L567.4 119.0 L567.8 117.9 L568.2 117.1 L568.7 117.6 L569.2 117.9 L569.7 117.1 L570.2 116.4 L570.7 115.8 L571.2 115.1 L571.7 114.4 L572.2 114.0 L573.0 110.0 L573.4 108.7 L573.8 107.6 M574.4 114.0 L574.8 113.1 L575.2 112.4 L575.8 116.0 M577.2 149.6 L577.6 148.9 L578.0 148.4 L578.4 147.1 L578.8 145.7 L579.2 144.6 L579.6 143.0 L580.4 147.6 L580.8 145.6 L581.2 144.0 L582.0 139.0 L582.5 136.4 L583.0 134.1 L583.5 132.3 L584.0 130.1 L584.5 128.4 L585.0 126.8 L585.5 125.0 L586.0 123.1 L586.5 121.3 L587.0 119.0 L588.0 113.0 L589.0 107.0 L589.5 105.6 L590.0 104.5 L590.5 104.4 L591.0 104.1 L591.5 103.1 L592.0 102.2 L592.5 100.6 L593.0 99.0 L593.4 98.8 L593.8 98.4 M594.4 106.0 L595.0 109.6 L595.4 108.2 L595.8 107.0 L596.3 105.6 L596.8 104.2 L597.3 103.3 L597.8 102.3 L598.3 101.2 L598.8 100.4 L599.3 99.8 L599.8 99.3 L600.3 97.9 L600.8 96.7 L601.2 95.4 L601.6 94.1 L601.9 92.7 L602.2 91.0 L602.8 96.0 L603.2 94.3 L603.6 93.0 L604.4 97.0 L604.7 97.3 L605.0 98.0 L605.6 102.4 L606.4 98.0 L606.9 97.1 L607.4 96.5 L607.9 95.9 L608.4 95.2 L608.9 94.4 L609.4 93.7 L609.9 92.9 L610.4 92.1 L610.9 91.8 L611.4 91.2 L611.8 92.0 L612.2 93.0 M613.4 172.0 L614.2 166.0 M615.0 159.0 L615.8 155.0 L616.3 154.4 L616.8 154.0 L617.6 148.0 L618.6 142.0 L619.4 138.0 L620.0 143.0 L620.8 138.0 M621.8 131.0 L622.3 128.9 L622.8 127.1 L623.3 125.3 L623.8 123.1 L624.3 120.8 L624.8 118.8 L625.2 117.5 L625.6 116.1 L625.8 115.6 L626.2 119.0 M627.0 163.0 L627.4 163.1 L627.8 163.6 L628.3 162.5 L628.8 161.2 L629.2 160.7 L629.6 160.2 L630.0 159.8 L630.4 159.7 L630.8 159.6 L631.6 155.0 L632.4 150.0 L632.8 147.8 L633.2 146.0 L634.0 142.0 M635.8 154.0 L636.2 152.8 L636.6 152.0 L637.1 149.6 L637.6 147.0 L638.6 141.0 L639.6 135.0 L640.1 132.4 L640.6 130.0 L641.1 128.2 L641.6 126.2 L642.1 123.9 L642.6 121.7 L643.1 120.4 L643.6 119.1 L644.1 117.7 L644.6 116.1 L645.1 114.7 L645.6 113.3 L646.1 111.8 L646.6 110.4 L647.2 116.0 M647.8 128.0 L648.4 134.0 L649.2 129.0 M651.0 112.0 L651.5 109.8 L652.0 108.0 L652.5 105.7 L653.0 103.0 L653.8 98.4" fill="none" stroke="#111" stroke-width="1.25" stroke-linejoin="round" stroke-linecap="round"/>
<line x1="87.20" y1="289.05" x2="87.20" y2="512.70" stroke="#000" stroke-width="1.9"/>
<line x1="76.20" y1="501.70" x2="654.65" y2="501.70" stroke="#000" stroke-width="1.9"/>
<line x1="76.20" y1="290.00" x2="87.20" y2="290.00" stroke="#000" stroke-width="1.9"/>
<text x="69.6" y="295.7" text-anchor="end">4</text>
<line x1="81.20" y1="325.28" x2="87.20" y2="325.28" stroke="#000" stroke-width="1.9"/>
<line x1="76.20" y1="360.57" x2="87.20" y2="360.57" stroke="#000" stroke-width="1.9"/>
<text x="69.6" y="366.3" text-anchor="end">2</text>
<line x1="81.20" y1="395.85" x2="87.20" y2="395.85" stroke="#000" stroke-width="1.9"/>
<line x1="76.20" y1="431.13" x2="87.20" y2="431.13" stroke="#000" stroke-width="1.9"/>
<text x="69.6" y="436.8" text-anchor="end">0</text>
<line x1="81.20" y1="466.42" x2="87.20" y2="466.42" stroke="#000" stroke-width="1.9"/>
<text x="69.6" y="507.4" text-anchor="end">-2</text>
<text x="62.37" y="530.90">15:44</text>
<line x1="181.62" y1="501.70" x2="181.62" y2="507.70" stroke="#000" stroke-width="1.9"/>
<line x1="276.03" y1="501.70" x2="276.03" y2="512.70" stroke="#000" stroke-width="1.9"/>
<text x="251.27" y="534.30">15:46</text>
<line x1="370.45" y1="501.70" x2="370.45" y2="507.70" stroke="#000" stroke-width="1.9"/>
<line x1="464.87" y1="501.70" x2="464.87" y2="512.70" stroke="#000" stroke-width="1.9"/>
<text x="434.57" y="535.50">15:48</text>
<line x1="559.28" y1="501.70" x2="559.28" y2="507.70" stroke="#000" stroke-width="1.9"/>
<line x1="653.70" y1="501.70" x2="653.70" y2="512.70" stroke="#000" stroke-width="1.9"/>
<text x="617.37" y="535.50">15:50</text>
<text x="570.77" y="310.50">May 06</text>
<path d="M88.0 425.0 L88.5 421.9 L89.0 422.1 L89.5 423.8 L90.0 425.5 L90.5 423.1 L91.0 420.4 L91.4 419.1 L91.8 418.5 L92.2 417.9 L92.6 417.3 L93.0 416.7 L93.4 417.2 L93.8 414.1 L94.2 411.1 L94.6 411.2 L95.0 411.8 L95.4 412.5 L95.8 413.2 L96.2 413.1 L96.6 411.8 L97.0 411.6 L97.4 411.0 L97.8 410.5 L98.2 411.6 L98.6 411.0 L99.0 414.0 L99.4 440.0 L100.0 458.0 L100.6 458.4 L101.4 454.0 L101.8 452.0 L102.2 451.8 L102.6 451.6 L102.9 451.5 L103.3 450.8 L103.7 448.8 L104.0 446.8 L104.3 446.4 L104.7 446.4 L105.1 446.4 L105.4 446.5 L105.8 446.3 L106.2 445.4 L106.6 443.5 L107.0 441.8 L107.4 441.6 L107.8 441.3 L108.2 441.0 L108.6 440.8 L109.0 440.3 L109.4 438.6 L109.8 437.0 L110.2 436.1 L110.6 436.2 L111.0 436.2 L111.4 436.3 L111.8 436.3 L112.2 436.2 L112.6 434.6 L113.0 433.1 L113.4 433.0 L113.8 432.8 L114.2 432.6 L114.6 432.4 L115.0 431.9 L115.4 429.7 L115.8 428.3 L116.2 428.1 L116.6 428.0 L117.0 427.7 L117.4 427.3 L117.8 425.6 L118.2 423.4 L118.6 422.2 L119.0 422.2 L119.4 422.2 L119.8 422.2 L120.2 422.4 L120.6 422.7 L121.0 421.9 L121.4 420.3 L121.8 419.5 L122.2 419.6 L122.6 419.7 L123.0 419.8 L123.4 419.2 L123.8 417.6 L124.2 416.0 L124.6 415.2 L125.0 414.8 L125.4 414.4 L125.8 414.0 L126.2 413.6 L126.6 413.2 L127.0 412.1 L127.4 410.0 L127.8 408.8 L128.2 409.4 L128.6 410.1 L129.0 410.7 L129.4 411.4 L129.8 411.3 L130.2 409.7 L130.6 408.1 L131.0 408.0 L131.4 407.9 L131.8 407.8 L132.2 407.0 L133.0 402.0 L133.4 399.6 L133.8 398.6 L134.2 398.5 L134.6 398.4 L135.0 398.2 L135.4 397.4 L135.8 395.7 L136.2 394.6 L136.6 395.5 L137.0 396.4 L137.4 397.4 L137.8 399.0 L138.2 400.5 L138.6 400.4 L139.0 398.7 L139.4 398.6 L139.8 399.5 L140.2 400.4 L140.6 400.9 L141.0 401.5 L141.4 400.7 L141.8 399.4 L142.2 398.6 L142.6 399.1 L143.0 399.7 L143.4 400.2 L143.8 400.2 L144.2 400.3 L144.6 399.0 L145.0 396.3 L145.4 396.6 L145.8 397.0 L146.2 397.4 L146.6 397.8 L147.0 396.9 L147.4 396.1 L147.8 396.2 L148.2 397.1 L148.6 397.7 L149.0 398.3 L149.4 398.9 L149.8 399.1 L150.2 398.2 L150.6 397.4 L151.0 398.4 L151.4 399.4 L151.8 399.8 L152.2 400.1 L152.6 400.4 L153.0 400.9 L153.4 398.4 L153.8 395.9 L154.2 395.3 L154.6 395.3 L155.0 395.8 L155.4 396.3 L155.8 396.8 L156.2 396.0 L156.6 393.3 L157.0 391.1 L157.4 390.3 L157.8 390.6 L158.2 390.9 L158.6 391.2 L159.0 391.0 L159.4 390.4 L159.8 389.9 L160.2 390.6 L160.6 391.4 L161.0 392.1 L161.4 391.7 L161.8 391.3 L162.2 390.4 L162.6 389.2 L163.0 388.1 L163.4 388.3 L163.9 388.3 L164.4 388.0 L164.8 420.0 L165.2 458.0 L165.6 466.0 L166.2 460.0 L167.0 455.0 L167.4 453.3 L167.8 452.7 L168.2 452.1 L168.6 451.8 L169.0 451.6 L169.4 451.1 L169.8 449.1 L170.2 447.5 L170.6 447.7 L171.0 448.0 L171.4 448.6 L171.8 449.2 L172.2 449.8 L172.6 448.8 L173.0 447.0 L173.4 445.6 L173.8 446.1 L174.2 446.5 L174.6 446.9 L175.0 447.2 L175.4 447.5 L175.8 446.4 L176.2 445.0 L176.6 443.9 L177.0 444.0 L177.4 444.2 L177.8 444.9 L178.2 445.5 L178.6 446.3 L179.0 444.8 L179.4 443.7 L179.8 444.5 L180.2 445.4 L180.6 446.3 L181.0 447.1 L181.4 446.2 L181.8 445.3 L182.2 445.2 L182.6 444.2 L183.0 443.3 L183.4 442.4 L183.8 441.5 L184.2 440.4 L184.6 437.7 L185.0 435.7 L185.4 435.4 L185.8 435.2 L186.2 435.0 L186.6 435.1 L187.0 435.2 L187.4 434.5 L187.8 433.0 L188.2 431.4 L188.6 431.1 L189.0 431.1 L189.4 431.1 L189.8 431.0 L190.2 431.0 L190.6 430.1 L191.0 428.5 L191.4 427.7 L191.8 427.6 L192.2 427.6 L192.6 427.5 L193.0 427.4 L193.4 426.3 L193.8 424.5 L194.2 424.1 L194.6 424.2 L195.0 424.2 L195.4 424.3 L195.8 424.3 L196.2 422.6 L196.6 420.7 L197.0 420.6 L197.4 420.6 L197.8 420.7 L198.2 420.8 L198.6 420.9 L199.0 419.5 L199.4 417.6 L199.8 416.8 L200.2 417.3 L200.6 417.8 L201.0 418.6 L201.4 419.4 L201.8 420.2 L202.2 418.6 L202.6 417.2 L203.0 417.8 L203.4 418.6 L203.8 419.4 L204.2 419.6 L204.6 419.1 L205.0 416.7 L205.4 415.6 L205.8 415.9 L206.2 416.2 L206.6 416.5 L207.0 416.8 L207.4 414.8 L207.8 413.3 L208.2 412.5 L208.6 412.4 L209.0 412.3 L209.4 412.2 L209.8 412.1 L210.2 412.0 L210.6 411.4 L211.0 409.9 L211.4 408.7 L211.8 408.8 L212.2 408.9 L212.6 409.0 L213.0 409.1 L213.4 409.2 L213.8 408.2 L214.2 405.7 L214.6 405.6 L215.0 406.1 L215.4 406.7 L215.8 407.2 L216.2 405.9 L216.6 404.3 L217.0 403.3 L217.4 403.1 L217.8 402.8 L218.2 402.6 L218.6 402.1 L219.0 400.4 L219.4 398.2 L219.8 397.6 L220.2 397.6 L220.6 397.7 L221.1 398.7 L221.6 399.7 L222.0 398.0 L222.4 440.0 L223.0 463.0 L223.6 458.0 L224.4 450.0 L224.8 447.8 L225.2 447.0 L225.6 446.3 L226.0 446.6 L226.4 446.9 L226.8 445.0 L227.2 443.0 L227.6 443.3 L228.0 443.7 L228.4 442.8 L228.8 441.0 L229.6 436.0 L230.0 434.5 L230.4 434.6 L230.8 434.8 L231.2 435.1 L231.6 434.7 L232.0 433.3 L232.4 431.9 L232.8 431.9 L233.2 431.9 L233.6 431.8 L234.0 431.8 L234.4 431.2 L234.8 429.5 L235.2 428.6 L235.6 428.6 L236.0 428.7 L236.4 428.7 L236.8 428.8 L237.2 427.0 L237.6 425.1 L238.0 425.1 L238.4 425.2 L238.8 425.2 L239.2 425.5 L239.6 425.8 L240.0 424.7 L240.4 423.2 L240.8 422.1 L241.2 422.2 L241.6 422.3 L242.0 422.4 L242.4 422.4 L242.8 422.5 L243.2 421.2 L243.6 418.8 L244.0 417.5 L244.4 417.5 L244.8 417.6 L245.2 417.6 L245.6 417.7 L246.0 416.5 L246.4 414.6 L246.8 413.1 L247.2 412.8 L247.6 412.5 L248.0 412.2 L248.4 412.0 L248.8 410.9 L249.2 409.1 L249.6 409.4 L250.0 409.8 L250.4 410.0 L250.8 410.2 L251.2 409.5 L251.6 407.3 L252.0 405.8 L252.4 406.1 L252.8 406.3 L253.2 406.5 L253.6 407.0 L254.0 407.5 L254.4 405.1 L254.8 402.9 L255.2 403.0 L255.6 403.2 L256.0 403.3 L256.4 403.5 L256.8 402.8 L257.2 399.8 L257.6 398.1 L258.0 398.3 L258.4 398.3 L258.8 398.3 L259.2 397.6 L259.6 394.2 L260.0 391.5 L260.4 391.1 L260.8 391.0 L261.2 390.9 L261.6 390.8 L262.0 389.2 L262.4 386.5 L262.8 386.7 L263.2 387.3 L263.6 388.0 L264.0 388.8 L264.4 387.8 L264.8 385.6 L265.2 384.5 L265.6 385.5 L266.0 386.4 L266.4 387.4 L266.8 387.8 L267.2 388.3 L267.6 386.4 L268.0 385.0 L268.4 384.2 L268.8 384.3 L269.2 384.3 L269.6 384.4 L270.0 383.9 L270.4 383.2 L270.8 381.0 L271.2 378.8 L271.6 377.9 L272.0 377.4 L272.4 376.9 L272.8 376.4 L273.2 375.9 L273.6 376.0 L274.0 374.3 L274.4 371.9 L274.8 372.8 L275.2 373.7 L275.6 374.6 L276.0 376.0 L276.4 375.7 L276.8 374.8 L277.2 373.8 L277.6 373.9 L278.0 373.9 L278.4 374.4 L278.8 374.9 L279.2 374.3 L279.6 374.3 L280.0 376.0 L280.4 396.0 L281.0 405.0 L281.5 406.5 L282.0 409.1 L282.4 409.1 L282.8 409.5 L283.2 406.6 L283.6 403.7 L284.0 402.6 L284.4 401.9 L284.8 401.1 L285.2 400.7 L285.6 400.3 L286.0 398.6 L286.4 396.6 L286.8 396.1 L287.2 396.4 L287.6 396.7 L288.0 397.1 L288.4 397.1 L288.8 395.2 L289.2 393.3 L289.6 393.4 L290.0 393.7 L290.4 394.1 L290.8 394.4 L291.2 394.7 L291.6 393.7 L292.0 391.9 L292.4 390.7 L292.8 390.9 L293.2 391.1 L293.6 391.3 L294.0 391.4 L294.4 390.8 L294.8 389.1 L295.2 387.7 L295.6 387.8 L296.0 387.7 L296.4 387.6 L296.8 387.5 L297.2 387.0 L297.6 384.4 L298.0 382.8 L298.4 382.4 L298.8 382.2 L299.2 382.0 L299.6 381.8 L300.0 380.2 L300.4 377.8 L300.8 378.3 L301.2 378.8 L301.6 379.3 L302.0 379.8 L302.4 378.8 L302.8 377.0 L303.2 375.6 L303.6 375.9 L304.0 376.1 L304.4 376.4 L304.8 376.6 L305.2 376.8 L305.6 374.9 L306.0 373.0 L306.4 373.3 L306.8 373.6 L307.2 374.0 L307.6 374.3 L308.0 372.9 L308.4 371.6 L308.8 371.1 L309.2 371.2 L309.6 371.1 L310.0 371.1 L310.4 371.0 L310.9 369.5 L311.4 366.6 L311.8 368.0 L312.2 370.2 L312.6 372.8 L313.0 375.5 L313.3 374.7 L313.6 372.4 L314.0 376.0 L314.4 420.0 L314.8 450.0 L315.2 458.0 L315.6 469.0 L316.2 462.0 L316.8 456.0 L317.2 455.7 L317.6 457.4 L318.0 457.0 L318.4 456.7 L318.8 456.7 L319.2 456.3 L319.6 454.0 L320.0 451.7 L320.4 451.8 L320.8 452.0 L321.2 452.2 L321.6 452.5 L322.0 452.7 L322.4 450.5 L322.8 448.5 L323.2 448.2 L323.6 447.3 L324.0 446.0 L324.6 440.0 L325.2 434.0 L325.6 431.3 L326.0 429.8 L326.4 431.4 L326.8 433.0 L327.2 434.6 L327.6 434.4 L328.0 433.0 L328.4 433.4 L328.8 433.8 L329.2 433.8 L329.6 433.9 L330.0 432.9 L330.4 431.7 L330.8 430.5 L331.2 430.3 L331.6 430.0 L332.0 429.7 L332.4 429.4 L332.8 428.8 L333.2 428.1 L333.6 425.3 L334.0 423.1 L334.4 422.9 L334.8 422.7 L335.2 422.5 L335.6 422.3 L336.0 422.1 L336.4 419.7 L336.8 417.2 L337.2 416.4 L337.6 416.8 L338.0 417.2 L338.4 417.7 L338.8 418.0 L339.2 417.2 L339.6 415.7 L340.0 414.2 L340.4 413.5 L340.8 413.4 L341.2 413.3 L341.6 413.2 L342.0 413.1 L342.4 413.1 L342.8 412.0 L343.2 409.9 L343.6 409.1 L344.0 409.2 L344.4 409.2 L344.8 409.2 L345.2 409.3 L345.6 407.4 L346.0 405.2 L346.4 403.8 L346.8 403.2 L347.2 402.7 L347.6 402.2 L348.0 401.7 L348.4 401.2 L348.8 400.2 L349.2 397.6 L349.6 395.3 L350.0 395.3 L350.4 395.3 L350.8 395.7 L351.2 396.1 L351.6 396.4 L352.0 396.2 L352.4 394.3 L352.8 392.3 L353.2 392.4 L353.6 392.5 L354.0 392.7 L354.4 393.1 L354.8 393.5 L355.2 392.2 L355.6 390.2 L356.0 388.8 L356.4 388.9 L356.8 389.3 L357.2 389.6 L357.6 389.9 L358.1 390.0 L358.5 388.1 L359.0 387.0 L359.0 388.0 L359.4 386.3 L359.8 386.7 L360.2 387.0 L360.6 387.4 L361.0 386.4 L361.4 384.3 L361.8 383.0 L362.2 383.0 L362.6 383.0 L363.0 383.0 L363.4 383.0 L363.8 381.7 L364.2 379.6 L364.6 378.2 L365.0 378.4 L365.4 378.5 L365.8 378.6 L366.2 378.6 L366.6 378.7 L367.0 377.2 L367.4 375.3 L367.8 374.1 L368.2 374.0 L368.6 374.0 L369.0 373.8 L369.4 373.6 L369.8 372.7 L370.2 370.1 L370.6 368.5 L371.0 368.5 L371.4 368.5 L371.8 368.5 L372.2 368.8 L372.6 369.0 L373.0 366.6 L373.4 364.3 L373.8 364.1 L374.2 364.5 L374.6 364.9 L375.0 365.2 L375.4 365.8 L375.8 365.4 L376.2 363.5 L376.6 361.6 L377.0 362.5 L377.4 363.3 L377.8 364.1 L378.2 364.9 L378.6 365.2 L379.0 363.7 L379.4 362.0 L379.8 360.7 L380.2 360.7 L380.6 360.6 L381.0 360.6 L381.4 360.5 L381.8 360.7 L382.2 358.8 L382.6 356.9 L383.0 357.0 L383.4 357.5 L383.8 358.1 L384.2 358.6 L384.6 359.2 L385.0 357.4 L385.4 355.2 L385.8 355.0 L386.2 355.4 L386.6 355.4 L387.0 355.4 L387.4 355.5 L387.8 353.4 L388.2 351.3 L388.6 350.2 L389.0 349.7 L389.4 349.8 L389.8 349.9 L390.2 350.1 L390.6 348.9 L391.0 347.4 L391.4 347.0 L391.8 348.1 L392.2 349.3 L392.6 350.4 L393.0 351.6 L393.4 352.3 L393.8 351.9 L394.2 351.7 L394.6 352.9 L395.0 354.2 L395.4 353.9 L395.8 353.5 L396.2 353.2 L396.6 351.5 L397.0 349.7 L397.4 349.0 L397.8 349.1 L398.2 349.3 L398.6 349.4 L399.0 349.5 L399.4 350.3 L399.8 348.0 L400.2 345.4 L400.6 345.5 L401.0 345.7 L401.4 346.4 L401.8 347.1 L402.2 346.6 L402.6 346.1 L403.0 345.7 L403.4 348.3 L403.8 350.8 L404.2 352.3 L404.6 353.8 L405.0 352.9 L405.4 350.2 L405.8 348.0 L406.2 346.8 L406.6 346.3 L407.0 346.6 L407.4 346.9 L407.8 347.1 L408.2 347.4 L408.6 346.7 L409.0 344.9 L409.4 345.3 L409.8 346.4 L410.2 347.0 L410.6 347.7 L411.0 348.3 L411.4 346.5 L411.8 345.1 L412.2 345.0 L412.6 345.9 L413.0 346.8 L413.4 347.3 L413.8 347.9 L414.2 348.4 L414.6 346.5 L415.0 344.3 L415.4 344.8 L415.8 345.5 L416.2 346.1 L416.6 346.7 L417.0 346.4 L417.4 344.4 L417.8 344.4 L418.6 340.0 L419.0 338.4 L419.4 346.0 L419.8 353.0 L420.2 352.1 L420.6 353.6 L421.0 348.0 L421.4 336.0 L421.8 329.0 L422.4 326.0 L423.0 330.0 L423.6 335.0 L424.2 336.1 L424.5 336.2 L424.8 336.0 L425.4 340.0 L425.9 400.0 L426.2 462.4 L426.5 400.0 L427.0 346.0 L427.4 341.0 L427.8 338.8 L428.2 338.5 L428.6 339.8 L429.0 341.0 L429.4 343.3 L429.8 343.5 L430.2 342.7 L430.6 343.6 L431.0 344.1 L431.4 344.5 L431.8 345.0 L432.2 345.7 L432.6 344.2 L433.0 342.8 L433.4 342.6 L433.8 343.4 L434.2 344.2 L434.6 344.5 L435.0 344.7 L435.4 345.0 L435.8 344.6 L436.2 343.3 L436.6 343.5 L437.0 344.5 L437.4 345.6 L437.8 346.6 L438.2 347.2 L438.6 347.5 L439.0 345.7 L439.4 344.5 L439.8 344.9 L440.2 346.1 L440.6 347.5 L441.0 348.8 L441.4 350.2 L441.8 349.9 L442.2 347.4 L442.6 345.5 L443.0 344.0 L443.4 343.4 L443.8 342.8 L444.2 342.2 L444.6 341.6 L445.0 341.1 L445.4 341.1 L445.8 340.0 L446.2 340.1 L446.6 340.6 L447.0 341.1 L447.4 341.6 L447.8 341.8 L448.2 341.2 L448.6 339.1 L449.0 338.6 L449.4 339.6 L449.8 340.5 L450.2 340.8 L450.6 341.5 L451.0 339.3 L451.4 337.2 L451.8 336.4 L452.2 336.7 L452.6 337.2 L453.0 337.7 L453.4 338.2 L453.8 339.4 L454.2 338.3 L454.6 337.9 L455.0 337.6 L455.4 338.2 L455.8 338.8 L456.2 339.5 L456.6 340.2 L457.0 340.9 L457.4 341.2 L457.8 339.5 L458.2 338.6 L458.6 338.6 L459.0 338.5 L459.4 338.5 L459.8 338.3 L460.2 337.4 L460.6 335.1 L461.0 333.1 L461.4 332.3 L461.8 331.9 L462.2 332.8 L462.6 333.7 L463.0 334.7 L463.4 335.9 L463.8 334.8 L464.2 335.4 L464.6 336.8 L465.0 338.1 L465.4 339.4 L465.8 338.4 L466.2 335.9 L466.6 333.4 L467.0 333.0 L467.4 333.6 L468.2 338.0 L468.6 337.5 L469.0 338.8 L469.4 340.1 L469.8 340.4 L470.2 340.7 L470.6 340.4 L471.0 338.3 L471.4 336.8 L471.8 337.4 L472.2 338.0 L472.6 338.5 L473.0 339.1 L473.4 338.5 L473.8 336.5 L474.2 334.6 L474.6 334.7 L475.0 334.9 L475.4 335.1 L475.8 335.6 L476.2 336.0 L476.6 335.4 L477.0 333.9 L477.4 332.5 L477.8 332.8 L478.2 332.9 L478.6 333.0 L479.0 333.2 L479.4 333.2 L479.8 331.7 L480.2 329.8 L480.6 331.1 L481.0 332.7 L481.4 334.3 L481.8 336.1 L482.2 337.9 L482.6 337.5 L483.0 335.8 L483.4 336.3 L483.8 336.8 L484.2 337.3 L484.6 337.7 L485.0 337.7 L485.4 335.9 L485.8 335.3 L486.2 336.3 L486.6 336.8 L487.0 337.4 L487.4 337.2 L487.8 335.7 L488.2 334.2 L488.6 334.3 L489.0 334.6 L489.4 334.9 L489.8 335.2 L490.2 335.4 L490.6 333.7 L491.0 332.2 L491.4 333.3 L491.8 334.4 L492.2 335.5 L492.6 336.8 L493.0 337.4 L493.4 336.2 L493.8 336.4 L494.2 338.1 L494.6 339.9 L495.1 341.2 L495.5 342.4 L496.0 341.0 L496.0 336.0 L496.4 335.8 L496.8 336.9 L497.2 338.0 L497.6 339.0 L498.0 338.7 L498.4 337.8 L498.8 337.9 L499.2 338.6 L499.6 338.6 L500.0 338.6 L500.4 338.6 L500.8 337.3 L501.2 336.1 L501.6 335.6 L502.0 335.8 L502.4 335.9 L502.8 336.2 L503.2 336.5 L503.6 337.3 L504.0 335.4 L504.4 334.2 L504.8 335.1 L505.2 335.9 L505.6 336.8 L506.0 337.2 L506.4 335.7 L506.8 333.6 L507.2 332.8 L507.6 333.7 L508.0 334.6 L508.4 335.4 L508.8 336.3 L509.2 336.1 L509.6 334.6 L510.0 333.1 L510.4 333.1 L510.8 333.5 L511.2 333.9 L511.6 334.4 L512.0 334.8 L512.4 334.3 L512.8 332.7 L513.2 331.4 L513.6 331.9 L514.0 332.4 L514.4 332.9 L514.8 333.4 L515.2 333.9 L515.6 333.7 L516.0 332.4 L516.4 331.8 L516.8 332.8 L517.2 333.5 L517.6 334.3 L518.0 335.1 L518.4 335.8 L518.8 333.0 L519.2 330.2 L519.6 329.4 L520.0 329.1 L520.4 328.9 L520.8 330.6 L521.2 332.4 L521.6 334.1 L522.0 333.3 L522.4 333.4 L522.8 333.5 L523.2 334.5 L523.6 335.4 L524.0 335.6 L524.4 335.9 L524.8 336.1 L525.2 335.6 L525.6 334.0 L526.0 333.6 L526.4 334.0 L526.8 334.5 L527.2 335.0 L527.6 335.5 L528.0 334.5 L528.4 332.4 L528.8 332.4 L529.2 332.9 L529.6 333.3 L530.0 333.8 L530.4 332.9 L530.8 329.9 L531.2 328.4 L531.7 328.4 L532.2 328.4 L532.6 330.6 L533.0 330.7 L533.5 330.2 L534.0 331.9 L534.4 333.0 L534.8 334.2 L535.2 335.3 L535.6 335.8 L536.0 334.8 L536.4 332.6 L536.8 333.4 L537.2 335.3 L537.6 337.1 L538.0 337.7 L538.4 338.2 L538.8 336.8 L539.2 334.1 L539.6 332.7 L540.0 332.7 L540.4 334.1 L540.8 335.6 L541.2 337.1 L541.6 337.7 L542.0 336.9 L542.4 336.1 L542.8 336.5 L543.2 337.4 L543.6 338.3 L544.0 339.1 L544.4 340.0 L544.8 340.8 L545.2 339.6 L545.6 338.6 L546.0 339.6 L546.4 380.0 L546.8 424.0 L547.4 436.0 L548.4 441.6 L548.8 439.8 L549.2 439.5 L549.6 438.5 L550.0 437.6 L550.4 437.1 L550.8 436.9 L551.2 433.9 L551.6 430.7 L552.0 430.2 L552.4 429.7 L552.8 429.2 L553.2 428.6 L553.6 427.2 L554.0 424.9 L554.4 422.7 L554.8 422.2 L555.2 421.7 L555.6 421.2 L556.0 420.7 L556.4 420.5 L556.8 418.9 L557.2 416.8 L557.6 415.7 L558.0 415.8 L558.4 415.9 L558.8 416.0 L559.2 416.1 L559.6 416.1 L560.0 413.3 L560.4 411.3 L560.8 411.5 L561.2 411.7 L561.6 411.9 L562.0 412.1 L562.4 410.1 L562.8 407.7 L563.2 407.2 L563.6 407.6 L564.0 408.1 L564.4 408.3 L564.8 408.6 L565.2 407.2 L565.6 404.7 L566.0 403.3 L566.4 403.6 L566.8 403.9 L567.2 404.3 L567.6 404.6 L568.0 403.6 L568.4 401.8 L568.8 400.5 L569.2 400.6 L569.6 400.7 L570.0 400.9 L570.4 401.0 L570.8 400.8 L571.2 398.8 L571.6 397.6 L572.0 398.1 L572.4 398.3 L572.8 398.6 L573.2 398.8 L573.6 398.5 L574.0 396.7 L574.4 394.8 L574.8 394.7 L575.2 394.9 L575.6 395.4 L576.0 395.9 L576.4 396.4 L576.8 396.3 L577.2 394.4 L577.6 393.0 L578.0 393.3 L578.4 393.6 L578.8 393.9 L579.2 394.2 L579.6 392.5 L580.0 390.6 L580.4 390.6 L580.8 390.7 L581.2 390.8 L581.6 390.9 L582.0 389.8 L582.4 388.3 L582.8 387.1 L583.2 387.2 L583.6 388.2 L584.0 389.1 L584.4 390.1 L584.8 391.1 L585.2 391.3 L585.6 389.9 L586.0 388.6 L586.4 389.3 L586.8 389.4 L587.2 389.4 L587.6 389.5 L588.0 389.5 L588.4 387.3 L588.8 384.0 L589.2 382.8 L589.6 382.3 L590.0 381.7 L590.4 381.2 L590.8 379.5 L591.2 376.9 L591.6 375.0 L592.0 374.4 L592.4 373.7 L592.8 373.1 L593.2 372.3 L593.6 370.2 L594.0 368.0 L594.4 367.6 L594.8 367.3 L595.2 367.1 L595.6 367.7 L596.0 368.4 L596.4 368.4 L596.8 366.0 L597.2 363.7 L597.6 363.1 L598.0 362.6 L598.4 362.1 L598.8 361.6 L599.2 361.6 L599.6 361.8 L600.0 359.5 L600.4 357.7 L600.8 358.5 L601.2 359.4 L601.6 359.7 L602.0 360.0 L602.4 360.3 L602.8 358.6 L603.2 355.8 L603.6 355.6 L604.0 356.1 L604.4 356.6 L604.8 357.2 L605.2 355.4 L605.6 352.4 L606.0 352.0 L606.6 348.0 L606.8 341.4 L608.0 484.2 L608.6 479.4 L609.1 476.5 L609.6 475.3 L610.0 474.8 L610.4 474.1 L610.8 470.8 L611.2 468.3 L611.6 468.3 L612.0 468.4 L612.4 468.7 L612.8 469.0 L613.2 469.2 L613.6 467.8 L614.0 465.3 L614.4 464.3 L614.8 464.7 L615.2 465.2 L615.6 465.6 L616.0 465.9 L616.4 464.1 L616.8 462.2 L617.2 461.3 L617.6 461.6 L618.0 461.8 L618.4 461.8 L618.8 461.7 L619.2 461.2 L619.6 459.2 L620.0 457.5 L620.4 457.4 L620.8 457.3 L621.2 457.2 L621.6 457.1 L622.0 456.1 L622.4 454.2 L622.8 453.5 L623.2 453.6 L623.6 453.6 L624.0 453.7 L624.4 453.6 L624.8 452.2 L625.2 449.7 L625.6 448.6 L626.0 448.4 L626.4 448.2 L626.9 447.2 L627.4 444.0 L627.8 431.0 L628.2 415.0 L628.8 409.0 L629.2 406.0 L629.6 404.7 L630.0 404.4 L630.4 404.1 L630.8 403.0 L631.2 401.0 L631.6 399.7 L632.0 399.6 L632.4 399.1 L632.8 398.6 L633.2 399.0 L633.6 396.4 L634.0 393.8 L634.4 393.1 L634.8 393.3 L635.2 393.5 L635.6 393.8 L636.0 393.8 L636.4 392.4 L636.8 390.7 L637.2 389.4 L637.6 389.2 L638.0 388.9 L638.4 388.7 L638.8 388.5 L639.2 387.7 L639.6 385.6 L640.0 384.6 L640.4 384.5 L640.8 384.5 L641.2 384.4 L641.6 384.4 L642.0 382.5 L642.4 380.3 L642.8 379.9 L643.2 379.9 L643.6 380.0 L644.0 380.0 L644.4 379.9 L644.8 377.4 L645.2 374.9 L645.6 374.7 L646.0 374.6 L646.4 374.5 L646.8 374.3 L647.2 373.8 L647.6 371.3 L648.0 368.9 L648.4 368.5 L648.8 368.3 L649.2 368.2 L649.6 368.1 L650.0 368.0 L650.4 367.0 L650.8 364.7 L651.2 362.4 L651.6 362.0 L652.0 361.8 L652.4 361.5 L652.8 361.2 L653.2 360.9 L653.6 359.8" fill="none" stroke="#161616" stroke-width="0.85" stroke-linejoin="round"/>
<path d="M88.0 425.0 L88.5 421.9 L89.0 422.1 L89.5 423.8 L90.0 425.5 L90.5 423.1 L91.0 420.4 L91.4 419.1 L91.8 418.5 L92.2 417.9 L92.6 417.3 L93.0 416.7 L93.4 417.2 L93.8 414.1 L94.2 411.1 L94.6 411.2 L95.0 411.8 L95.4 412.5 L95.8 413.2 L96.2 413.1 L96.6 411.8 L97.0 411.6 L97.4 411.0 L97.8 410.5 L98.2 411.6 L98.6 411.0 L99.0 414.0 M100.0 458.0 L100.6 458.4 L101.4 454.0 L101.8 452.0 L102.2 451.8 L102.6 451.6 L102.9 451.5 L103.3 450.8 L103.7 448.8 L104.0 446.8 L104.3 446.4 L104.7 446.4 L105.1 446.4 L105.4 446.5 L105.8 446.3 L106.2 445.4 L106.6 443.5 L107.0 441.8 L107.4 441.6 L107.8 441.3 L108.2 441.0 L108.6 440.8 L109.0 440.3 L109.4 438.6 L109.8 437.0 L110.2 436.1 L110.6 436.2 L111.0 436.2 L111.4 436.3 L111.8 436.3 L112.2 436.2 L112.6 434.6 L113.0 433.1 L113.4 433.0 L113.8 432.8 L114.2 432.6 L114.6 432.4 L115.0 431.9 L115.4 429.7 L115.8 428.3 L116.2 428.1 L116.6 428.0 L117.0 427.7 L117.4 427.3 L117.8 425.6 L118.2 423.4 L118.6 422.2 L119.0 422.2 L119.4 422.2 L119.8 422.2 L120.2 422.4 L120.6 422.7 L121.0 421.9 L121.4 420.3 L121.8 419.5 L122.2 419.6 L122.6 419.7 L123.0 419.8 L123.4 419.2 L123.8 417.6 L124.2 416.0 L124.6 415.2 L125.0 414.8 L125.4 414.4 L125.8 414.0 L126.2 413.6 L126.6 413.2 L127.0 412.1 L127.4 410.0 L127.8 408.8 L128.2 409.4 L128.6 410.1 L129.0 410.7 L129.4 411.4 L129.8 411.3 L130.2 409.7 L130.6 408.1 L131.0 408.0 L131.4 407.9 L131.8 407.8 L132.2 407.0 L133.0 402.0 L133.4 399.6 L133.8 398.6 L134.2 398.5 L134.6 398.4 L135.0 398.2 L135.4 397.4 L135.8 395.7 L136.2 394.6 L136.6 395.5 L137.0 396.4 L137.4 397.4 L137.8 399.0 L138.2 400.5 L138.6 400.4 L139.0 398.7 L139.4 398.6 L139.8 399.5 L140.2 400.4 L140.6 400.9 L141.0 401.5 L141.4 400.7 L141.8 399.4 L142.2 398.6 L142.6 399.1 L143.0 399.7 L143.4 400.2 L143.8 400.2 L144.2 400.3 L144.6 399.0 L145.0 396.3 L145.4 396.6 L145.8 397.0 L146.2 397.4 L146.6 397.8 L147.0 396.9 L147.4 396.1 L147.8 396.2 L148.2 397.1 L148.6 397.7 L149.0 398.3 L149.4 398.9 L149.8 399.1 L150.2 398.2 L150.6 397.4 L151.0 398.4 L151.4 399.4 L151.8 399.8 L152.2 400.1 L152.6 400.4 L153.0 400.9 L153.4 398.4 L153.8 395.9 L154.2 395.3 L154.6 395.3 L155.0 395.8 L155.4 396.3 L155.8 396.8 L156.2 396.0 L156.6 393.3 L157.0 391.1 L157.4 390.3 L157.8 390.6 L158.2 390.9 L158.6 391.2 L159.0 391.0 L159.4 390.4 L159.8 389.9 L160.2 390.6 L160.6 391.4 L161.0 392.1 L161.4 391.7 L161.8 391.3 L162.2 390.4 L162.6 389.2 L163.0 388.1 L163.4 388.3 L163.9 388.3 L164.4 388.0 M165.6 466.0 L166.2 460.0 L167.0 455.0 L167.4 453.3 L167.8 452.7 L168.2 452.1 L168.6 451.8 L169.0 451.6 L169.4 451.1 L169.8 449.1 L170.2 447.5 L170.6 447.7 L171.0 448.0 L171.4 448.6 L171.8 449.2 L172.2 449.8 L172.6 448.8 L173.0 447.0 L173.4 445.6 L173.8 446.1 L174.2 446.5 L174.6 446.9 L175.0 447.2 L175.4 447.5 L175.8 446.4 L176.2 445.0 L176.6 443.9 L177.0 444.0 L177.4 444.2 L177.8 444.9 L178.2 445.5 L178.6 446.3 L179.0 444.8 L179.4 443.7 L179.8 444.5 L180.2 445.4 L180.6 446.3 L181.0 447.1 L181.4 446.2 L181.8 445.3 L182.2 445.2 L182.6 444.2 L183.0 443.3 L183.4 442.4 L183.8 441.5 L184.2 440.4 L184.6 437.7 L185.0 435.7 L185.4 435.4 L185.8 435.2 L186.2 435.0 L186.6 435.1 L187.0 435.2 L187.4 434.5 L187.8 433.0 L188.2 431.4 L188.6 431.1 L189.0 431.1 L189.4 431.1 L189.8 431.0 L190.2 431.0 L190.6 430.1 L191.0 428.5 L191.4 427.7 L191.8 427.6 L192.2 427.6 L192.6 427.5 L193.0 427.4 L193.4 426.3 L193.8 424.5 L194.2 424.1 L194.6 424.2 L195.0 424.2 L195.4 424.3 L195.8 424.3 L196.2 422.6 L196.6 420.7 L197.0 420.6 L197.4 420.6 L197.8 420.7 L198.2 420.8 L198.6 420.9 L199.0 419.5 L199.4 417.6 L199.8 416.8 L200.2 417.3 L200.6 417.8 L201.0 418.6 L201.4 419.4 L201.8 420.2 L202.2 418.6 L202.6 417.2 L203.0 417.8 L203.4 418.6 L203.8 419.4 L204.2 419.6 L204.6 419.1 L205.0 416.7 L205.4 415.6 L205.8 415.9 L206.2 416.2 L206.6 416.5 L207.0 416.8 L207.4 414.8 L207.8 413.3 L208.2 412.5 L208.6 412.4 L209.0 412.3 L209.4 412.2 L209.8 412.1 L210.2 412.0 L210.6 411.4 L211.0 409.9 L211.4 408.7 L211.8 408.8 L212.2 408.9 L212.6 409.0 L213.0 409.1 L213.4 409.2 L213.8 408.2 L214.2 405.7 L214.6 405.6 L215.0 406.1 L215.4 406.7 L215.8 407.2 L216.2 405.9 L216.6 404.3 L217.0 403.3 L217.4 403.1 L217.8 402.8 L218.2 402.6 L218.6 402.1 L219.0 400.4 L219.4 398.2 L219.8 397.6 L220.2 397.6 L220.6 397.7 L221.1 398.7 L221.6 399.7 L222.0 398.0 M223.0 463.0 L223.6 458.0 M224.4 450.0 L224.8 447.8 L225.2 447.0 L225.6 446.3 L226.0 446.6 L226.4 446.9 L226.8 445.0 L227.2 443.0 L227.6 443.3 L228.0 443.7 L228.4 442.8 L228.8 441.0 L229.6 436.0 L230.0 434.5 L230.4 434.6 L230.8 434.8 L231.2 435.1 L231.6 434.7 L232.0 433.3 L232.4 431.9 L232.8 431.9 L233.2 431.9 L233.6 431.8 L234.0 431.8 L234.4 431.2 L234.8 429.5 L235.2 428.6 L235.6 428.6 L236.0 428.7 L236.4 428.7 L236.8 428.8 L237.2 427.0 L237.6 425.1 L238.0 425.1 L238.4 425.2 L238.8 425.2 L239.2 425.5 L239.6 425.8 L240.0 424.7 L240.4 423.2 L240.8 422.1 L241.2 422.2 L241.6 422.3 L242.0 422.4 L242.4 422.4 L242.8 422.5 L243.2 421.2 L243.6 418.8 L244.0 417.5 L244.4 417.5 L244.8 417.6 L245.2 417.6 L245.6 417.7 L246.0 416.5 L246.4 414.6 L246.8 413.1 L247.2 412.8 L247.6 412.5 L248.0 412.2 L248.4 412.0 L248.8 410.9 L249.2 409.1 L249.6 409.4 L250.0 409.8 L250.4 410.0 L250.8 410.2 L251.2 409.5 L251.6 407.3 L252.0 405.8 L252.4 406.1 L252.8 406.3 L253.2 406.5 L253.6 407.0 L254.0 407.5 L254.4 405.1 L254.8 402.9 L255.2 403.0 L255.6 403.2 L256.0 403.3 L256.4 403.5 L256.8 402.8 L257.2 399.8 L257.6 398.1 L258.0 398.3 L258.4 398.3 L258.8 398.3 L259.2 397.6 L259.6 394.2 L260.0 391.5 L260.4 391.1 L260.8 391.0 L261.2 390.9 L261.6 390.8 L262.0 389.2 L262.4 386.5 L262.8 386.7 L263.2 387.3 L263.6 388.0 L264.0 388.8 L264.4 387.8 L264.8 385.6 L265.2 384.5 L265.6 385.5 L266.0 386.4 L266.4 387.4 L266.8 387.8 L267.2 388.3 L267.6 386.4 L268.0 385.0 L268.4 384.2 L268.8 384.3 L269.2 384.3 L269.6 384.4 L270.0 383.9 L270.4 383.2 L270.8 381.0 L271.2 378.8 L271.6 377.9 L272.0 377.4 L272.4 376.9 L272.8 376.4 L273.2 375.9 L273.6 376.0 L274.0 374.3 L274.4 371.9 L274.8 372.8 L275.2 373.7 L275.6 374.6 L276.0 376.0 L276.4 375.7 L276.8 374.8 L277.2 373.8 L277.6 373.9 L278.0 373.9 L278.4 374.4 L278.8 374.9 L279.2 374.3 L279.6 374.3 L280.0 376.0 M281.0 405.0 L281.5 406.5 L282.0 409.1 L282.4 409.1 L282.8 409.5 L283.2 406.6 L283.6 403.7 L284.0 402.6 L284.4 401.9 L284.8 401.1 L285.2 400.7 L285.6 400.3 L286.0 398.6 L286.4 396.6 L286.8 396.1 L287.2 396.4 L287.6 396.7 L288.0 397.1 L288.4 397.1 L288.8 395.2 L289.2 393.3 L289.6 393.4 L290.0 393.7 L290.4 394.1 L290.8 394.4 L291.2 394.7 L291.6 393.7 L292.0 391.9 L292.4 390.7 L292.8 390.9 L293.2 391.1 L293.6 391.3 L294.0 391.4 L294.4 390.8 L294.8 389.1 L295.2 387.7 L295.6 387.8 L296.0 387.7 L296.4 387.6 L296.8 387.5 L297.2 387.0 L297.6 384.4 L298.0 382.8 L298.4 382.4 L298.8 382.2 L299.2 382.0 L299.6 381.8 L300.0 380.2 L300.4 377.8 L300.8 378.3 L301.2 378.8 L301.6 379.3 L302.0 379.8 L302.4 378.8 L302.8 377.0 L303.2 375.6 L303.6 375.9 L304.0 376.1 L304.4 376.4 L304.8 376.6 L305.2 376.8 L305.6 374.9 L306.0 373.0 L306.4 373.3 L306.8 373.6 L307.2 374.0 L307.6 374.3 L308.0 372.9 L308.4 371.6 L308.8 371.1 L309.2 371.2 L309.6 371.1 L310.0 371.1 L310.4 371.0 L310.9 369.5 L311.4 366.6 L311.8 368.0 L312.2 370.2 L312.6 372.8 L313.0 375.5 L313.3 374.7 L313.6 372.4 L314.0 376.0 M316.2 462.0 L316.8 456.0 L317.2 455.7 L317.6 457.4 L318.0 457.0 L318.4 456.7 L318.8 456.7 L319.2 456.3 L319.6 454.0 L320.0 451.7 L320.4 451.8 L320.8 452.0 L321.2 452.2 L321.6 452.5 L322.0 452.7 L322.4 450.5 L322.8 448.5 L323.2 448.2 L323.6 447.3 L324.0 446.0 L324.6 440.0 L325.2 434.0 L325.6 431.3 L326.0 429.8 L326.4 431.4 L326.8 433.0 L327.2 434.6 L327.6 434.4 L328.0 433.0 L328.4 433.4 L328.8 433.8 L329.2 433.8 L329.6 433.9 L330.0 432.9 L330.4 431.7 L330.8 430.5 L331.2 430.3 L331.6 430.0 L332.0 429.7 L332.4 429.4 L332.8 428.8 L333.2 428.1 L333.6 425.3 L334.0 423.1 L334.4 422.9 L334.8 422.7 L335.2 422.5 L335.6 422.3 L336.0 422.1 L336.4 419.7 L336.8 417.2 L337.2 416.4 L337.6 416.8 L338.0 417.2 L338.4 417.7 L338.8 418.0 L339.2 417.2 L339.6 415.7 L340.0 414.2 L340.4 413.5 L340.8 413.4 L341.2 413.3 L341.6 413.2 L342.0 413.1 L342.4 413.1 L342.8 412.0 L343.2 409.9 L343.6 409.1 L344.0 409.2 L344.4 409.2 L344.8 409.2 L345.2 409.3 L345.6 407.4 L346.0 405.2 L346.4 403.8 L346.8 403.2 L347.2 402.7 L347.6 402.2 L348.0 401.7 L348.4 401.2 L348.8 400.2 L349.2 397.6 L349.6 395.3 L350.0 395.3 L350.4 395.3 L350.8 395.7 L351.2 396.1 L351.6 396.4 L352.0 396.2 L352.4 394.3 L352.8 392.3 L353.2 392.4 L353.6 392.5 L354.0 392.7 L354.4 393.1 L354.8 393.5 L355.2 392.2 L355.6 390.2 L356.0 388.8 L356.4 388.9 L356.8 389.3 L357.2 389.6 L357.6 389.9 L358.1 390.0 L358.5 388.1 L359.0 387.0 L359.0 388.0 L359.4 386.3 L359.8 386.7 L360.2 387.0 L360.6 387.4 L361.0 386.4 L361.4 384.3 L361.8 383.0 L362.2 383.0 L362.6 383.0 L363.0 383.0 L363.4 383.0 L363.8 381.7 L364.2 379.6 L364.6 378.2 L365.0 378.4 L365.4 378.5 L365.8 378.6 L366.2 378.6 L366.6 378.7 L367.0 377.2 L367.4 375.3 L367.8 374.1 L368.2 374.0 L368.6 374.0 L369.0 373.8 L369.4 373.6 L369.8 372.7 L370.2 370.1 L370.6 368.5 L371.0 368.5 L371.4 368.5 L371.8 368.5 L372.2 368.8 L372.6 369.0 L373.0 366.6 L373.4 364.3 L373.8 364.1 L374.2 364.5 L374.6 364.9 L375.0 365.2 L375.4 365.8 L375.8 365.4 L376.2 363.5 L376.6 361.6 L377.0 362.5 L377.4 363.3 L377.8 364.1 L378.2 364.9 L378.6 365.2 L379.0 363.7 L379.4 362.0 L379.8 360.7 L380.2 360.7 L380.6 360.6 L381.0 360.6 L381.4 360.5 L381.8 360.7 L382.2 358.8 L382.6 356.9 L383.0 357.0 L383.4 357.5 L383.8 358.1 L384.2 358.6 L384.6 359.2 L385.0 357.4 L385.4 355.2 L385.8 355.0 L386.2 355.4 L386.6 355.4 L387.0 355.4 L387.4 355.5 L387.8 353.4 L388.2 351.3 L388.6 350.2 L389.0 349.7 L389.4 349.8 L389.8 349.9 L390.2 350.1 L390.6 348.9 L391.0 347.4 L391.4 347.0 L391.8 348.1 L392.2 349.3 L392.6 350.4 L393.0 351.6 L393.4 352.3 L393.8 351.9 L394.2 351.7 L394.6 352.9 L395.0 354.2 L395.4 353.9 L395.8 353.5 L396.2 353.2 L396.6 351.5 L397.0 349.7 L397.4 349.0 L397.8 349.1 L398.2 349.3 L398.6 349.4 L399.0 349.5 L399.4 350.3 L399.8 348.0 L400.2 345.4 L400.6 345.5 L401.0 345.7 L401.4 346.4 L401.8 347.1 L402.2 346.6 L402.6 346.1 L403.0 345.7 L403.4 348.3 L403.8 350.8 L404.2 352.3 L404.6 353.8 L405.0 352.9 L405.4 350.2 L405.8 348.0 L406.2 346.8 L406.6 346.3 L407.0 346.6 L407.4 346.9 L407.8 347.1 L408.2 347.4 L408.6 346.7 L409.0 344.9 L409.4 345.3 L409.8 346.4 L410.2 347.0 L410.6 347.7 L411.0 348.3 L411.4 346.5 L411.8 345.1 L412.2 345.0 L412.6 345.9 L413.0 346.8 L413.4 347.3 L413.8 347.9 L414.2 348.4 L414.6 346.5 L415.0 344.3 L415.4 344.8 L415.8 345.5 L416.2 346.1 L416.6 346.7 L417.0 346.4 L417.4 344.4 L417.8 344.4 L418.6 340.0 L419.0 338.4 M419.8 353.0 L420.2 352.1 L420.6 353.6 L421.0 348.0 M421.8 329.0 L422.4 326.0 L423.0 330.0 L423.6 335.0 L424.2 336.1 L424.5 336.2 L424.8 336.0 L425.4 340.0 M427.0 346.0 L427.4 341.0 L427.8 338.8 L428.2 338.5 L428.6 339.8 L429.0 341.0 L429.4 343.3 L429.8 343.5 L430.2 342.7 L430.6 343.6 L431.0 344.1 L431.4 344.5 L431.8 345.0 L432.2 345.7 L432.6 344.2 L433.0 342.8 L433.4 342.6 L433.8 343.4 L434.2 344.2 L434.6 344.5 L435.0 344.7 L435.4 345.0 L435.8 344.6 L436.2 343.3 L436.6 343.5 L437.0 344.5 L437.4 345.6 L437.8 346.6 L438.2 347.2 L438.6 347.5 L439.0 345.7 L439.4 344.5 L439.8 344.9 L440.2 346.1 L440.6 347.5 L441.0 348.8 L441.4 350.2 L441.8 349.9 L442.2 347.4 L442.6 345.5 L443.0 344.0 L443.4 343.4 L443.8 342.8 L444.2 342.2 L444.6 341.6 L445.0 341.1 L445.4 341.1 L445.8 340.0 L446.2 340.1 L446.6 340.6 L447.0 341.1 L447.4 341.6 L447.8 341.8 L448.2 341.2 L448.6 339.1 L449.0 338.6 L449.4 339.6 L449.8 340.5 L450.2 340.8 L450.6 341.5 L451.0 339.3 L451.4 337.2 L451.8 336.4 L452.2 336.7 L452.6 337.2 L453.0 337.7 L453.4 338.2 L453.8 339.4 L454.2 338.3 L454.6 337.9 L455.0 337.6 L455.4 338.2 L455.8 338.8 L456.2 339.5 L456.6 340.2 L457.0 340.9 L457.4 341.2 L457.8 339.5 L458.2 338.6 L458.6 338.6 L459.0 338.5 L459.4 338.5 L459.8 338.3 L460.2 337.4 L460.6 335.1 L461.0 333.1 L461.4 332.3 L461.8 331.9 L462.2 332.8 L462.6 333.7 L463.0 334.7 L463.4 335.9 L463.8 334.8 L464.2 335.4 L464.6 336.8 L465.0 338.1 L465.4 339.4 L465.8 338.4 L466.2 335.9 L466.6 333.4 L467.0 333.0 L467.4 333.6 L468.2 338.0 L468.6 337.5 L469.0 338.8 L469.4 340.1 L469.8 340.4 L470.2 340.7 L470.6 340.4 L471.0 338.3 L471.4 336.8 L471.8 337.4 L472.2 338.0 L472.6 338.5 L473.0 339.1 L473.4 338.5 L473.8 336.5 L474.2 334.6 L474.6 334.7 L475.0 334.9 L475.4 335.1 L475.8 335.6 L476.2 336.0 L476.6 335.4 L477.0 333.9 L477.4 332.5 L477.8 332.8 L478.2 332.9 L478.6 333.0 L479.0 333.2 L479.4 333.2 L479.8 331.7 L480.2 329.8 L480.6 331.1 L481.0 332.7 L481.4 334.3 L481.8 336.1 L482.2 337.9 L482.6 337.5 L483.0 335.8 L483.4 336.3 L483.8 336.8 L484.2 337.3 L484.6 337.7 L485.0 337.7 L485.4 335.9 L485.8 335.3 L486.2 336.3 L486.6 336.8 L487.0 337.4 L487.4 337.2 L487.8 335.7 L488.2 334.2 L488.6 334.3 L489.0 334.6 L489.4 334.9 L489.8 335.2 L490.2 335.4 L490.6 333.7 L491.0 332.2 L491.4 333.3 L491.8 334.4 L492.2 335.5 L492.6 336.8 L493.0 337.4 L493.4 336.2 L493.8 336.4 L494.2 338.1 L494.6 339.9 L495.1 341.2 L495.5 342.4 L496.0 341.0 L496.0 336.0 L496.4 335.8 L496.8 336.9 L497.2 338.0 L497.6 339.0 L498.0 338.7 L498.4 337.8 L498.8 337.9 L499.2 338.6 L499.6 338.6 L500.0 338.6 L500.4 338.6 L500.8 337.3 L501.2 336.1 L501.6 335.6 L502.0 335.8 L502.4 335.9 L502.8 336.2 L503.2 336.5 L503.6 337.3 L504.0 335.4 L504.4 334.2 L504.8 335.1 L505.2 335.9 L505.6 336.8 L506.0 337.2 L506.4 335.7 L506.8 333.6 L507.2 332.8 L507.6 333.7 L508.0 334.6 L508.4 335.4 L508.8 336.3 L509.2 336.1 L509.6 334.6 L510.0 333.1 L510.4 333.1 L510.8 333.5 L511.2 333.9 L511.6 334.4 L512.0 334.8 L512.4 334.3 L512.8 332.7 L513.2 331.4 L513.6 331.9 L514.0 332.4 L514.4 332.9 L514.8 333.4 L515.2 333.9 L515.6 333.7 L516.0 332.4 L516.4 331.8 L516.8 332.8 L517.2 333.5 L517.6 334.3 L518.0 335.1 L518.4 335.8 L518.8 333.0 L519.2 330.2 L519.6 329.4 L520.0 329.1 L520.4 328.9 L520.8 330.6 L521.2 332.4 L521.6 334.1 L522.0 333.3 L522.4 333.4 L522.8 333.5 L523.2 334.5 L523.6 335.4 L524.0 335.6 L524.4 335.9 L524.8 336.1 L525.2 335.6 L525.6 334.0 L526.0 333.6 L526.4 334.0 L526.8 334.5 L527.2 335.0 L527.6 335.5 L528.0 334.5 L528.4 332.4 L528.8 332.4 L529.2 332.9 L529.6 333.3 L530.0 333.8 L530.4 332.9 L530.8 329.9 L531.2 328.4 L531.7 328.4 L532.2 328.4 L532.6 330.6 L533.0 330.7 L533.5 330.2 L534.0 331.9 L534.4 333.0 L534.8 334.2 L535.2 335.3 L535.6 335.8 L536.0 334.8 L536.4 332.6 L536.8 333.4 L537.2 335.3 L537.6 337.1 L538.0 337.7 L538.4 338.2 L538.8 336.8 L539.2 334.1 L539.6 332.7 L540.0 332.7 L540.4 334.1 L540.8 335.6 L541.2 337.1 L541.6 337.7 L542.0 336.9 L542.4 336.1 L542.8 336.5 L543.2 337.4 L543.6 338.3 L544.0 339.1 L544.4 340.0 L544.8 340.8 L545.2 339.6 L545.6 338.6 L546.0 339.6 M547.4 436.0 L548.4 441.6 L548.8 439.8 L549.2 439.5 L549.6 438.5 L550.0 437.6 L550.4 437.1 L550.8 436.9 L551.2 433.9 L551.6 430.7 L552.0 430.2 L552.4 429.7 L552.8 429.2 L553.2 428.6 L553.6 427.2 L554.0 424.9 L554.4 422.7 L554.8 422.2 L555.2 421.7 L555.6 421.2 L556.0 420.7 L556.4 420.5 L556.8 418.9 L557.2 416.8 L557.6 415.7 L558.0 415.8 L558.4 415.9 L558.8 416.0 L559.2 416.1 L559.6 416.1 L560.0 413.3 L560.4 411.3 L560.8 411.5 L561.2 411.7 L561.6 411.9 L562.0 412.1 L562.4 410.1 L562.8 407.7 L563.2 407.2 L563.6 407.6 L564.0 408.1 L564.4 408.3 L564.8 408.6 L565.2 407.2 L565.6 404.7 L566.0 403.3 L566.4 403.6 L566.8 403.9 L567.2 404.3 L567.6 404.6 L568.0 403.6 L568.4 401.8 L568.8 400.5 L569.2 400.6 L569.6 400.7 L570.0 400.9 L570.4 401.0 L570.8 400.8 L571.2 398.8 L571.6 397.6 L572.0 398.1 L572.4 398.3 L572.8 398.6 L573.2 398.8 L573.6 398.5 L574.0 396.7 L574.4 394.8 L574.8 394.7 L575.2 394.9 L575.6 395.4 L576.0 395.9 L576.4 396.4 L576.8 396.3 L577.2 394.4 L577.6 393.0 L578.0 393.3 L578.4 393.6 L578.8 393.9 L579.2 394.2 L579.6 392.5 L580.0 390.6 L580.4 390.6 L580.8 390.7 L581.2 390.8 L581.6 390.9 L582.0 389.8 L582.4 388.3 L582.8 387.1 L583.2 387.2 L583.6 388.2 L584.0 389.1 L584.4 390.1 L584.8 391.1 L585.2 391.3 L585.6 389.9 L586.0 388.6 L586.4 389.3 L586.8 389.4 L587.2 389.4 L587.6 389.5 L588.0 389.5 L588.4 387.3 L588.8 384.0 L589.2 382.8 L589.6 382.3 L590.0 381.7 L590.4 381.2 L590.8 379.5 L591.2 376.9 L591.6 375.0 L592.0 374.4 L592.4 373.7 L592.8 373.1 L593.2 372.3 L593.6 370.2 L594.0 368.0 L594.4 367.6 L594.8 367.3 L595.2 367.1 L595.6 367.7 L596.0 368.4 L596.4 368.4 L596.8 366.0 L597.2 363.7 L597.6 363.1 L598.0 362.6 L598.4 362.1 L598.8 361.6 L599.2 361.6 L599.6 361.8 L600.0 359.5 L600.4 357.7 L600.8 358.5 L601.2 359.4 L601.6 359.7 L602.0 360.0 L602.4 360.3 L602.8 358.6 L603.2 355.8 L603.6 355.6 L604.0 356.1 L604.4 356.6 L604.8 357.2 L605.2 355.4 L605.6 352.4 L606.0 352.0 L606.6 348.0 M608.0 484.2 L608.6 479.4 L609.1 476.5 L609.6 475.3 L610.0 474.8 L610.4 474.1 L610.8 470.8 L611.2 468.3 L611.6 468.3 L612.0 468.4 L612.4 468.7 L612.8 469.0 L613.2 469.2 L613.6 467.8 L614.0 465.3 L614.4 464.3 L614.8 464.7 L615.2 465.2 L615.6 465.6 L616.0 465.9 L616.4 464.1 L616.8 462.2 L617.2 461.3 L617.6 461.6 L618.0 461.8 L618.4 461.8 L618.8 461.7 L619.2 461.2 L619.6 459.2 L620.0 457.5 L620.4 457.4 L620.8 457.3 L621.2 457.2 L621.6 457.1 L622.0 456.1 L622.4 454.2 L622.8 453.5 L623.2 453.6 L623.6 453.6 L624.0 453.7 L624.4 453.6 L624.8 452.2 L625.2 449.7 L625.6 448.6 L626.0 448.4 L626.4 448.2 L626.9 447.2 L627.4 444.0 M628.2 415.0 L628.8 409.0 L629.2 406.0 L629.6 404.7 L630.0 404.4 L630.4 404.1 L630.8 403.0 L631.2 401.0 L631.6 399.7 L632.0 399.6 L632.4 399.1 L632.8 398.6 L633.2 399.0 L633.6 396.4 L634.0 393.8 L634.4 393.1 L634.8 393.3 L635.2 393.5 L635.6 393.8 L636.0 393.8 L636.4 392.4 L636.8 390.7 L637.2 389.4 L637.6 389.2 L638.0 388.9 L638.4 388.7 L638.8 388.5 L639.2 387.7 L639.6 385.6 L640.0 384.6 L640.4 384.5 L640.8 384.5 L641.2 384.4 L641.6 384.4 L642.0 382.5 L642.4 380.3 L642.8 379.9 L643.2 379.9 L643.6 380.0 L644.0 380.0 L644.4 379.9 L644.8 377.4 L645.2 374.9 L645.6 374.7 L646.0 374.6 L646.4 374.5 L646.8 374.3 L647.2 373.8 L647.6 371.3 L648.0 368.9 L648.4 368.5 L648.8 368.3 L649.2 368.2 L649.6 368.1 L650.0 368.0 L650.4 367.0 L650.8 364.7 L651.2 362.4 L651.6 362.0 L652.0 361.8 L652.4 361.5 L652.8 361.2 L653.2 360.9 L653.6 359.8" fill="none" stroke="#111" stroke-width="1.25" stroke-linejoin="round" stroke-linecap="round"/>
<line x1="87.20" y1="549.05" x2="87.20" y2="772.90" stroke="#000" stroke-width="1.9"/>
<line x1="76.20" y1="761.90" x2="654.65" y2="761.90" stroke="#000" stroke-width="1.9"/>
<line x1="76.20" y1="550.00" x2="87.20" y2="550.00" stroke="#000" stroke-width="1.9"/>
<text x="69.6" y="555.7" text-anchor="end">2</text>
<line x1="81.20" y1="576.49" x2="87.20" y2="576.49" stroke="#000" stroke-width="1.9"/>
<line x1="76.20" y1="602.98" x2="87.20" y2="602.98" stroke="#000" stroke-width="1.9"/>
<text x="69.6" y="608.7" text-anchor="end">1</text>
<line x1="81.20" y1="629.46" x2="87.20" y2="629.46" stroke="#000" stroke-width="1.9"/>
<line x1="76.20" y1="655.95" x2="87.20" y2="655.95" stroke="#000" stroke-width="1.9"/>
<text x="69.6" y="661.7" text-anchor="end">0</text>
<line x1="81.20" y1="682.44" x2="87.20" y2="682.44" stroke="#000" stroke-width="1.9"/>
<line x1="76.20" y1="708.92" x2="87.20" y2="708.92" stroke="#000" stroke-width="1.9"/>
<text x="69.6" y="714.6" text-anchor="end">-1</text>
<line x1="81.20" y1="735.41" x2="87.20" y2="735.41" stroke="#000" stroke-width="1.9"/>
<text x="69.6" y="767.6" text-anchor="end">-2</text>
<text x="61.57" y="794.30">16:57</text>
<line x1="181.62" y1="761.90" x2="181.62" y2="767.90" stroke="#000" stroke-width="1.9"/>
<line x1="276.03" y1="761.90" x2="276.03" y2="772.90" stroke="#000" stroke-width="1.9"/>
<text x="249.37" y="793.60">16:59</text>
<line x1="370.45" y1="761.90" x2="370.45" y2="767.90" stroke="#000" stroke-width="1.9"/>
<line x1="464.87" y1="761.90" x2="464.87" y2="772.90" stroke="#000" stroke-width="1.9"/>
<text x="430.27" y="791.80">17:01</text>
<line x1="559.28" y1="761.90" x2="559.28" y2="767.90" stroke="#000" stroke-width="1.9"/>
<line x1="653.70" y1="761.90" x2="653.70" y2="772.90" stroke="#000" stroke-width="1.9"/>
<text x="629.17" y="793.30">17:03</text>
<text x="590.47" y="572.30">May 11</text>
<path d="M88.0 663.0 L88.5 661.3 L89.0 659.7 L89.4 659.2 L89.8 658.7 L90.2 658.1 L90.6 657.6 L91.0 656.8 L91.4 656.0 L91.8 656.2 L92.2 656.5 L92.6 656.8 L93.0 656.3 L93.4 655.7 L93.8 655.1 L94.2 654.2 L94.6 653.4 L95.0 652.1 L95.5 652.3 L96.0 652.6 L96.5 654.8 L97.0 657.1 L97.4 657.6 L97.8 658.1 L98.2 658.1 L98.6 656.5 L99.0 655.0 L99.4 653.9 L99.8 653.4 L100.2 652.9 L100.6 652.2 L101.0 653.0 L101.4 653.9 L101.8 654.8 L102.2 655.9 L102.6 656.9 L103.0 658.0 L103.4 657.9 L103.8 657.8 L104.2 657.6 L104.6 659.1 L105.0 660.6 L105.5 663.3 L106.0 666.0 L106.5 668.7 L107.0 671.4 L107.4 672.4 L107.8 673.5 L108.2 674.6 L108.6 675.8 L109.0 676.9 L109.4 678.1 L109.8 679.6 L110.2 680.9 L110.6 682.0 L111.0 682.8 L111.4 683.8 L111.8 684.9 L112.2 685.7 L112.6 686.5 L113.0 687.3 L113.4 686.6 L113.8 686.0 L114.2 685.8 L114.6 687.0 L115.0 688.1 L115.4 689.3 L115.8 690.6 L116.2 691.7 L116.6 692.8 L117.0 693.6 L117.4 694.7 L117.8 695.9 L118.2 696.7 L118.6 697.4 L119.0 685.0 L119.4 678.6 L120.0 683.0 L120.5 683.8 L121.0 684.9 L121.4 685.7 L121.8 686.5 L122.2 687.3 L122.6 687.5 L123.0 687.7 L123.4 687.8 L123.8 689.0 L124.2 690.5 L124.6 691.9 L125.0 692.7 L125.4 693.5 L125.8 694.3 L126.2 694.5 L126.6 694.7 L127.0 694.9 L127.4 694.4 L127.8 694.2 L128.2 693.9 L128.6 694.2 L129.0 694.5 L129.4 694.8 L129.8 694.5 L130.2 693.8 L130.6 693.1 L131.0 693.9 L131.4 694.9 L131.8 696.6 L132.2 698.2 L132.6 699.3 L133.0 700.1 L133.4 700.9 L133.8 701.4 L134.2 702.1 L134.6 702.9 L135.0 702.6 L135.4 702.4 L135.8 702.2 L136.2 702.6 L136.6 702.7 L137.0 702.8 L137.4 703.4 L137.8 704.3 L138.2 705.1 L138.6 706.7 L139.0 708.2 L139.5 710.2 L140.0 712.3 L140.5 710.7 L141.0 709.1 L141.5 707.3 L142.0 705.1 L142.5 705.4 L143.0 705.7 L143.4 705.3 L143.8 705.0 L144.2 704.6 L144.6 705.9 L145.0 707.2 L145.4 708.4 L145.8 709.2 L146.2 709.9 L146.6 711.0 L147.0 712.3 L147.4 713.8 L147.8 714.6 L148.2 715.4 L148.6 716.3 L149.0 716.1 L149.4 715.5 L149.8 714.9 L150.2 714.4 L150.6 714.2 L151.0 714.0 L151.4 714.9 L151.8 715.5 L152.2 716.1 L152.6 716.8 L153.0 717.5 L153.4 718.5 L153.8 718.7 L154.2 718.9 L154.6 719.1 L155.0 718.8 L155.4 717.8 L155.8 716.8 L156.2 716.2 L156.6 716.1 L157.0 715.9 L157.4 716.3 L157.8 716.7 L158.2 716.9 L158.6 716.1 L159.0 715.3 L159.4 714.7 L159.8 714.6 L160.2 714.5 L160.6 714.3 L161.0 713.9 L161.4 713.3 L161.8 712.6 L162.2 713.1 L162.6 713.7 L163.0 714.2 L163.4 715.0 L163.8 715.5 L164.2 716.0 L164.6 716.2 L165.0 716.4 L165.4 716.8 L165.8 715.9 L166.2 715.0 L166.6 714.1 L167.0 713.7 L167.4 713.3 L167.8 712.6 L168.2 712.9 L168.6 713.4 L169.0 714.0 L169.4 715.1 L169.8 716.2 L170.2 717.1 L170.6 717.6 L171.0 718.1 L171.4 718.8 L171.8 718.6 L172.2 718.4 L172.6 718.1 L173.0 718.5 L173.4 718.8 L173.8 718.9 L174.2 719.3 L174.6 720.2 L175.0 721.0 L175.4 720.9 L175.8 720.6 L176.2 720.1 L176.6 719.3 L177.0 718.4 L177.4 717.7 L177.8 718.1 L178.2 718.6 L178.6 719.0 L179.0 719.7 L179.4 720.3 L179.8 720.9 L180.2 719.8 L180.6 718.6 L181.0 717.7 L181.4 716.2 L181.8 714.7 L182.2 713.2 L182.6 711.9 L183.0 710.2 L183.4 708.5 L183.8 708.0 L184.2 708.0 L184.6 708.0 L185.0 708.6 L185.4 709.0 L185.8 709.1 L186.2 708.3 L186.6 707.6 L187.0 707.3 L187.4 707.9 L187.8 708.4 L188.2 708.8 L188.6 709.9 L189.0 711.0 L189.4 709.3 L189.8 707.8 L190.2 706.9 L190.6 705.9 L191.0 705.0 L191.4 705.4 L191.8 705.9 L192.2 706.3 L192.6 705.4 L193.0 704.5 L193.4 703.6 L193.8 704.4 L194.2 705.3 L194.6 706.1 L195.0 706.6 L195.4 707.0 L195.8 707.1 L196.2 706.7 L196.6 706.5 L197.0 706.5 L197.5 708.9 L198.0 711.0 L198.4 685.0 L198.8 645.0 L199.2 615.0 L199.6 608.0 L200.2 612.0 L201.0 619.0 L201.8 624.0 L202.6 628.0 L203.0 628.2 L203.4 628.7 L203.8 629.1 L204.2 630.0 L204.6 630.6 L205.0 631.0 L205.4 631.8 L205.8 632.5 L206.2 633.7 L206.6 634.8 L207.0 636.0 L207.4 637.2 L207.8 637.9 L208.2 638.6 L208.6 638.7 L209.0 638.5 L209.4 638.5 L209.8 638.8 L210.2 640.0 L210.6 641.3 L211.0 642.3 L211.4 643.4 L211.8 644.6 L212.2 645.8 L212.6 647.1 L213.0 648.5 L213.4 649.9 L213.8 650.7 L214.2 651.5 L214.6 652.2 L215.0 652.5 L215.4 652.7 L215.8 652.9 L216.2 653.8 L216.6 654.9 L217.0 655.9 L217.4 656.5 L217.8 657.1 L218.2 657.6 L218.6 657.8 L219.0 657.7 L219.4 657.6 L219.8 658.7 L220.2 659.9 L220.6 661.1 L221.1 662.5 L221.6 663.6 L222.0 664.0 L222.5 662.7 L223.0 661.7 L223.5 660.9 L224.0 660.1 L224.4 661.3 L224.8 662.3 L225.2 663.0 L225.6 663.4 L226.0 664.1 L226.4 664.9 L226.8 664.4 L227.2 663.9 L227.6 663.2 L228.0 663.6 L228.4 663.9 L228.8 664.2 L229.2 665.1 L229.6 666.1 L230.0 667.0 L230.4 667.8 L230.8 668.6 L231.2 669.3 L231.6 669.2 L232.0 669.1 L232.4 669.1 L232.8 668.4 L233.2 667.8 L233.6 667.1 L234.0 666.6 L234.4 666.0 L234.8 665.1 L235.2 665.5 L235.6 665.8 L236.0 666.3 L236.4 666.2 L236.8 666.1 L237.2 666.0 L237.6 666.5 L238.0 667.0 L238.4 667.3 L238.8 667.3 L239.2 667.3 L239.6 667.7 L240.0 669.0 L240.4 670.2 L240.8 671.3 L241.2 671.8 L241.6 672.2 L242.0 672.7 L242.4 673.1 L242.8 673.6 L243.2 674.1 L243.6 673.9 L244.0 673.6 L244.4 673.0 L244.8 673.3 L245.2 673.8 L245.6 674.5 L246.0 675.5 L246.4 676.5 L246.8 677.2 L247.2 678.0 L247.6 678.8 L248.0 679.8 L248.5 680.9 L249.0 682.0 L249.6 677.0 L250.0 665.0 L250.4 659.0 L251.0 658.5 L251.6 661.1 L252.0 663.2 L252.4 665.0 L253.2 669.0 L253.6 670.8 L254.0 672.9 L254.4 673.6 L254.8 674.2 L255.2 674.8 L255.6 674.5 L256.0 674.2 L256.4 673.9 L256.8 674.1 L257.2 674.5 L257.6 674.9 L258.0 675.7 L258.4 676.5 L258.8 677.2 L259.2 678.0 L259.6 678.4 L260.0 678.8 L260.4 679.2 L260.8 680.0 L261.2 680.9 L261.6 681.7 L262.0 682.5 L262.4 683.4 L262.8 683.0 L263.2 682.4 L263.6 681.8 L264.0 680.1 L264.4 678.8 L264.8 677.8 L265.2 676.7 L265.6 677.6 L266.0 678.3 L266.4 679.0 L266.8 679.7 L267.2 678.2 L267.6 676.9 L268.0 677.6 L268.4 678.3 L268.8 679.3 L269.2 680.1 L269.6 680.9 L270.0 681.7 L270.4 682.8 L270.8 684.0 L271.2 685.1 L271.6 686.2 L272.0 686.7 L272.4 687.0 L272.8 687.3 L273.2 686.9 L273.6 686.6 L274.0 686.4 L274.4 687.3 L274.8 688.2 L275.2 689.2 L275.6 690.3 L276.0 691.3 L276.4 692.0 L276.9 693.6 L277.4 695.7 L277.8 694.4 L278.2 693.0 L279.0 685.0 L279.4 682.7 L279.8 680.9 L280.3 681.4 L280.8 681.8 L281.2 682.1 L281.6 682.4 L282.0 682.6 L282.4 683.4 L282.8 684.3 L283.2 685.1 L283.6 686.1 L284.0 687.0 L284.4 687.4 L284.8 687.6 L285.2 688.1 L285.6 688.9 L286.0 689.6 L286.4 690.4 L286.8 690.8 L287.2 690.4 L287.6 690.0 L288.0 689.8 L288.4 690.3 L288.8 690.7 L289.2 691.1 L289.6 691.9 L290.0 692.4 L290.4 693.0 L290.8 694.3 L291.2 695.7 L291.6 696.5 L292.0 697.4 L292.4 665.0 L292.8 625.0 L293.2 608.0 L293.5 607.5 L293.8 607.4 L294.4 611.0 L295.2 617.0 L296.0 623.0 L297.0 629.0 L297.5 631.3 L298.0 634.0 L298.5 636.1 L299.0 638.2 L299.5 639.4 L300.0 640.1 L300.4 639.5 L300.8 638.9 L301.2 638.6 L301.6 638.9 L302.0 639.2 L302.4 639.5 L302.8 640.6 L303.2 641.6 L303.6 642.1 L304.0 643.0 L304.4 643.9 L304.8 644.8 L305.2 645.2 L305.6 645.6 L306.0 646.1 L306.4 645.5 L306.8 644.9 L307.2 644.0 L307.6 644.1 L308.0 644.5 L308.4 645.0 L308.8 645.8 L309.2 646.6 L309.6 647.2 L310.0 647.6 L310.4 648.0 L310.8 648.7 L311.2 649.2 L311.6 649.7 L312.0 650.2 L312.4 650.5 L312.8 650.6 L313.2 650.6 L313.6 650.7 L314.0 650.8 L314.4 651.2 L314.8 651.2 L315.2 651.1 L315.6 651.1 L316.0 651.8 L316.4 652.4 L316.8 652.7 L317.2 652.8 L317.6 653.2 L318.0 653.9 L318.4 654.3 L318.8 654.7 L319.2 654.8 L319.6 654.7 L320.0 654.7 L320.4 654.8 L320.8 654.0 L321.2 653.1 L321.6 651.7 L322.0 650.3 L322.5 648.6 L323.0 647.0 L323.5 647.0 L324.0 647.0 L324.4 646.8 L324.8 646.6 L325.2 646.3 L325.6 646.5 L326.0 646.7 L326.4 647.2 L326.8 648.7 L327.2 650.1 L327.6 650.6 L328.0 650.9 L328.4 651.0 L328.8 651.1 L329.2 651.3 L329.6 651.8 L330.0 652.6 L330.4 653.4 L330.8 654.3 L331.2 654.6 L331.6 654.6 L332.0 654.5 L332.4 654.6 L332.8 655.2 L333.2 655.9 L333.6 656.4 L334.0 657.0 L334.4 657.4 L334.8 658.0 L335.2 658.7 L335.6 659.7 L336.0 660.9 L336.4 662.1 L336.8 663.3 L337.2 664.4 L337.6 665.1 L338.0 665.9 L338.4 665.4 L338.8 665.2 L339.2 665.2 L339.6 664.9 L340.0 664.6 L340.4 664.3 L340.8 663.9 L341.2 663.4 L341.6 662.9 L342.0 661.8 L342.4 660.8 L342.8 660.0 L343.2 661.6 L343.6 663.2 L344.0 664.3 L344.4 665.1 L344.8 664.3 L345.2 663.7 L345.6 662.9 L346.0 662.1 L346.4 662.0 L346.8 661.5 L347.2 660.9 L347.6 661.0 L348.0 661.4 L348.4 662.0 L348.8 662.0 L349.2 662.0 L349.6 661.6 L350.0 661.5 L350.4 661.4 L350.8 661.8 L351.2 662.4 L351.6 662.9 L352.0 663.2 L352.4 663.4 L352.8 663.5 L353.2 663.8 L353.6 664.6 L354.0 665.4 L354.4 666.1 L354.8 666.8 L355.2 667.0 L355.6 667.2 L356.0 667.3 L356.4 667.7 L356.8 668.0 L357.2 668.0 L357.6 667.9 L358.0 667.5 L358.5 668.0 L359.0 668.7 L359.0 668.7 L359.4 669.3 L359.8 670.0 L360.2 671.6 L360.6 673.2 L361.0 673.4 L361.4 673.3 L361.8 673.1 L362.2 672.9 L362.6 672.8 L363.0 672.7 L363.4 671.1 L363.8 669.0 L364.4 659.0 L365.0 652.0 L365.4 651.3 L365.8 650.9 L366.2 651.5 L366.6 652.1 L367.0 652.6 L367.4 652.9 L367.8 653.1 L368.2 653.8 L368.6 654.5 L369.0 655.2 L369.4 655.9 L369.8 656.7 L370.2 657.4 L370.6 658.0 L371.0 658.6 L371.4 659.4 L371.8 659.7 L372.2 660.0 L372.6 660.3 L373.0 660.3 L373.4 660.6 L373.8 660.9 L374.2 661.7 L374.6 662.5 L375.0 663.4 L375.4 663.8 L375.8 664.1 L376.2 664.4 L376.6 664.7 L377.0 665.3 L377.4 665.9 L377.8 666.8 L378.2 667.6 L378.6 668.5 L379.0 668.6 L379.4 668.8 L379.8 669.0 L380.2 669.5 L380.6 670.1 L381.0 670.7 L381.4 671.0 L381.8 671.3 L382.2 671.2 L382.6 671.2 L383.0 671.3 L383.4 671.8 L383.8 672.1 L384.2 672.3 L384.6 672.2 L385.1 672.3 L385.6 672.6 L386.0 657.0 L386.4 644.6 L386.8 653.0 L387.4 658.0 L387.8 659.3 L388.2 660.9 L388.6 662.1 L389.0 663.2 L389.4 664.4 L389.8 664.8 L390.2 665.3 L390.6 665.7 L391.0 666.3 L391.4 667.1 L391.8 668.0 L392.2 668.6 L392.6 669.2 L393.0 669.8 L393.5 669.7 L394.0 669.6 L394.5 668.3 L395.0 667.1 L395.4 666.8 L395.8 666.3 L396.2 666.4 L396.6 666.5 L397.0 666.7 L397.4 667.2 L397.8 667.6 L398.2 668.1 L398.6 668.5 L399.0 668.6 L399.4 668.6 L399.8 669.2 L400.2 669.8 L400.6 670.3 L401.0 670.9 L401.4 671.4 L401.8 671.7 L402.2 672.0 L402.6 672.2 L403.0 671.5 L403.4 670.8 L403.8 670.3 L404.2 669.2 L404.6 668.0 L405.0 667.6 L405.4 667.2 L405.8 668.0 L406.2 668.7 L406.6 667.9 L407.0 667.2 L407.4 668.0 L407.8 668.9 L408.2 668.6 L408.6 668.4 L409.0 668.2 L409.4 667.6 L409.8 666.8 L410.2 667.0 L410.6 667.2 L411.0 667.8 L411.4 668.7 L411.8 669.4 L412.2 670.0 L412.6 675.0 L413.0 655.0 L413.4 635.0 L414.0 630.0 L414.3 630.7 L414.6 632.0 L415.2 636.0 L415.5 635.2 L415.8 635.0 L416.2 625.0 L416.6 615.0 L417.0 608.0 L417.3 608.7 L417.6 610.0 L418.2 616.0 L419.0 622.0 L419.8 627.0 L420.2 628.7 L420.6 631.0 L421.4 635.0 L422.2 639.4 L422.6 640.7 L423.0 642.5 L423.4 643.8 L423.8 645.2 L424.2 645.9 L424.6 646.4 L425.0 646.7 L425.4 646.5 L425.8 646.4 L426.2 646.7 L426.6 646.4 L427.0 646.0 L427.4 645.6 L427.8 645.4 L428.2 644.6 L428.6 643.8 L429.0 643.2 L429.4 642.9 L429.8 644.1 L430.2 645.3 L430.6 646.5 L431.0 647.5 L431.4 647.5 L431.8 647.6 L432.2 648.7 L432.6 649.9 L433.0 650.6 L433.4 651.2 L433.8 652.9 L434.2 654.1 L434.6 655.5 L435.0 656.8 L435.4 658.3 L435.8 659.9 L436.2 661.5 L436.6 663.0 L437.4 667.0 L437.8 667.9 L438.2 669.0 L438.6 668.5 L439.0 668.1 L439.4 667.7 L439.8 666.7 L440.2 665.7 L440.6 666.7 L441.0 667.9 L441.4 669.1 L441.8 670.3 L442.2 670.7 L442.6 671.0 L443.0 670.3 L443.4 669.8 L443.8 668.4 L444.2 667.1 L444.6 666.2 L445.0 665.3 L445.4 664.5 L445.8 663.8 L446.2 664.7 L446.6 665.9 L447.0 667.0 L447.4 668.2 L447.8 669.3 L448.2 670.1 L448.6 670.7 L449.0 671.2 L449.4 671.0 L449.8 670.8 L450.2 670.6 L450.6 669.9 L451.0 669.2 L451.4 668.4 L451.8 667.4 L452.2 666.9 L452.6 666.3 L453.0 667.1 L453.4 667.9 L453.8 669.0 L454.2 670.1 L454.6 670.8 L455.0 671.2 L455.4 671.8 L455.8 672.5 L456.2 673.4 L456.6 674.4 L457.0 675.2 L457.4 676.0 L457.8 676.6 L458.2 677.2 L458.6 676.1 L459.0 674.7 L459.4 673.2 L459.8 671.7 L460.2 671.9 L460.6 672.2 L461.0 672.5 L461.4 672.8 L461.8 673.0 L462.2 673.3 L462.6 673.7 L463.0 673.8 L463.4 673.9 L463.8 673.8 L464.2 674.0 L464.6 674.3 L465.0 674.6 L465.4 674.9 L465.8 675.2 L466.2 675.8 L466.6 675.8 L467.0 676.0 L467.4 676.2 L467.8 676.4 L468.2 676.8 L468.6 677.0 L469.0 677.3 L469.4 677.5 L469.8 678.4 L470.2 679.3 L470.6 679.6 L471.0 679.9 L471.4 679.2 L471.8 678.9 L472.2 680.0 L472.6 681.1 L473.0 681.7 L473.4 682.2 L473.8 682.4 L474.2 682.6 L474.6 682.7 L475.0 683.1 L475.4 683.6 L475.8 684.0 L476.2 684.5 L476.6 684.9 L477.0 685.2 L477.4 685.3 L477.8 685.5 L478.2 685.8 L478.6 686.1 L479.0 686.5 L479.4 686.8 L479.8 686.2 L480.2 685.0 L480.6 684.1 L481.0 683.7 L481.4 684.2 L481.8 684.8 L482.2 685.7 L482.6 686.2 L483.0 685.6 L483.4 684.9 L483.8 683.7 L484.2 682.7 L484.6 682.4 L485.0 682.0 L485.4 683.1 L485.8 684.2 L486.2 685.8 L486.6 687.2 L487.0 688.5 L487.4 689.8 L487.8 690.7 L488.2 691.8 L488.6 693.2 L489.0 694.7 L489.4 695.8 L489.8 696.9 L490.2 696.5 L490.6 696.0 L491.0 694.3 L491.4 692.7 L491.8 691.4 L492.2 690.0 L492.6 689.6 L493.0 689.3 L493.4 690.0 L493.8 690.6 L494.2 690.9 L494.6 691.1 L495.0 690.5 L495.4 689.9 L495.7 689.7 L496.0 689.5 L496.0 689.5 L496.5 690.4 L497.0 691.1 L497.5 690.6 L498.0 690.3 L498.4 691.7 L498.8 693.1 L499.2 694.2 L499.6 695.3 L500.0 694.6 L500.4 694.0 L501.2 685.0 L501.8 680.6 L502.4 681.9 L502.8 684.1 L503.2 686.2 L503.6 687.7 L504.0 689.1 L504.4 689.8 L504.8 690.4 L505.2 691.2 L505.6 691.5 L506.0 691.8 L506.4 692.0 L506.8 691.8 L507.2 691.5 L507.6 691.3 L508.0 691.6 L508.4 691.9 L508.8 692.7 L509.2 693.5 L509.6 694.3 L510.0 695.0 L510.4 695.4 L510.8 695.8 L511.2 696.4 L511.6 697.2 L512.0 698.0 L512.4 698.8 L512.8 699.6 L513.2 700.0 L513.6 700.5 L514.0 701.0 L514.4 701.6 L514.8 702.4 L515.2 702.8 L515.6 703.2 L516.0 703.6 L516.4 704.0 L516.8 703.9 L517.2 703.9 L517.6 704.1 L518.0 704.6 L518.4 705.0 L518.8 705.2 L519.2 705.5 L519.6 705.5 L520.0 705.5 L520.4 705.5 L520.8 705.8 L521.2 706.2 L521.6 706.5 L522.0 706.9 L522.5 707.3 L523.0 707.4 L523.6 703.0 L524.2 698.6 L524.6 698.7 L525.0 699.3 L525.5 700.3 L526.0 701.3 L526.4 702.0 L526.8 702.3 L527.2 702.6 L527.6 702.6 L528.0 702.7 L528.4 703.1 L528.8 703.0 L529.2 703.0 L529.6 702.9 L530.0 702.6 L530.4 702.1 L530.8 701.4 L531.2 701.7 L531.6 702.0 L532.0 702.7 L532.4 703.4 L532.8 704.1 L533.2 704.7 L533.6 705.2 L534.0 705.6 L534.4 705.6 L534.8 705.6 L535.2 705.5 L535.6 705.5 L536.0 705.9 L536.4 706.3 L536.8 706.6 L537.2 706.6 L537.6 706.6 L538.0 706.2 L538.4 706.7 L538.8 707.1 L539.2 707.8 L539.6 708.4 L540.0 709.0 L540.4 709.7 L540.8 710.7 L541.2 711.5 L541.6 712.3 L542.0 711.6 L542.4 710.9 L542.8 710.1 L543.2 709.3 L543.6 708.7 L544.0 708.0 L544.4 707.3 L544.8 706.7 L545.2 707.7 L545.6 708.6 L546.0 709.4 L546.4 710.2 L546.8 709.8 L547.2 709.1 L547.6 709.9 L548.0 710.7 L548.4 712.2 L548.8 714.0 L549.0 685.0 L549.4 625.0 L549.8 606.0 L550.2 573.0 L550.8 551.2 L551.3 551.0 L551.8 551.2 L552.4 573.0 L553.2 589.0 L554.0 600.0 L555.2 610.0 L556.0 617.0 L556.8 623.0 L557.6 629.0 L558.4 634.0 L558.8 635.3 L559.2 636.9 L559.6 638.2 L560.0 639.5 L560.4 640.5 L560.8 641.2 L561.2 640.9 L561.6 640.5 L562.0 640.4 L562.4 640.0 L562.8 639.6 L563.2 639.2 L563.6 638.1 L564.0 636.7 L564.4 636.1 L564.8 635.6 L565.2 637.3 L565.6 639.0 L566.4 644.0 L567.2 650.0 L568.0 657.0 L568.8 664.0 L569.6 669.0 L570.4 673.0 L570.8 674.3 L571.2 676.0 L572.0 680.0 L572.8 689.0 L573.6 699.0 L574.4 705.0 L574.8 704.3 L575.2 703.9 L575.6 703.6 L576.0 703.3 L576.4 702.8 L576.8 702.1 L577.2 701.4 L577.6 700.7 L578.0 699.8 L578.4 698.9 L578.8 698.5 L579.2 698.2 L579.6 697.8 L580.0 697.1 L580.4 696.7 L580.8 696.3 L581.2 696.8 L581.6 697.4 L582.0 696.9 L582.4 696.3 L582.8 695.6 L583.2 694.9 L583.6 695.7 L584.0 696.8 L584.4 698.2 L584.8 699.5 L585.2 700.6 L585.6 701.6 L586.0 702.2 L586.4 702.9 L586.8 702.2 L587.2 701.8 L587.6 700.5 L588.0 699.1 L588.4 698.2 L588.8 697.4 L589.2 696.2 L589.6 694.9 L590.0 694.2 L590.4 693.7 L590.8 693.3 L591.2 693.0 L591.6 692.6 L592.0 692.3 L592.4 692.6 L592.8 692.6 L593.2 693.1 L593.6 693.7 L594.0 694.4 L594.4 695.1 L594.8 695.1 L595.2 694.8 L595.6 695.3 L596.0 695.8 L596.4 696.2 L596.8 696.9 L597.2 696.5 L597.6 696.2 L598.0 697.3 L598.4 698.2 L598.8 698.6 L599.2 699.1 L599.6 699.7 L600.0 700.4 L600.4 702.3 L600.8 704.2 L601.2 705.8 L601.6 707.3 L602.0 706.1 L602.4 704.9 L602.8 703.5 L603.2 702.3 L603.6 702.1 L604.0 702.0 L604.4 703.1 L604.8 704.3 L605.2 705.4 L605.6 706.2 L606.0 706.4 L606.4 706.6 L606.8 707.1 L607.2 707.6 L607.6 708.2 L608.0 708.7 L608.4 708.8 L608.8 709.0 L609.2 708.9 L609.6 709.1 L610.0 709.4 L610.4 709.9 L610.8 710.4 L611.2 710.9 L611.6 710.5 L612.0 710.1 L612.4 709.7 L612.8 710.2 L613.2 710.9 L613.6 711.5 L614.0 711.8 L614.4 712.1 L614.8 712.2 L615.2 712.3 L615.6 712.5 L616.0 712.7 L616.4 713.3 L616.8 714.0 L617.2 714.6 L617.6 715.0 L618.0 715.4 L618.4 715.7 L618.8 715.9 L619.2 716.1 L619.6 716.3 L620.0 716.8 L620.4 717.4 L620.8 718.0 L621.2 717.9 L621.6 717.8 L622.0 717.8 L622.4 717.9 L622.8 718.0 L623.2 718.3 L623.6 718.6 L624.0 719.0 L624.4 719.3 L624.8 718.7 L625.2 717.9 L625.6 717.4 L626.4 713.4 L626.8 712.8 L627.2 712.6 L627.6 713.4 L628.0 714.0 L628.8 718.0 L629.2 719.8 L629.6 722.0 L629.9 723.1 L630.2 724.0 L630.8 721.0 L631.6 716.6 L632.0 714.8 L632.4 713.4 L632.8 714.1 L633.2 714.9 L633.6 715.4 L634.0 715.9 L634.4 716.1 L634.8 716.6 L635.2 717.0 L635.6 717.7 L636.0 718.3 L636.4 718.7 L636.8 718.8 L637.2 719.0 L637.6 719.2 L638.0 719.5 L638.4 719.7 L638.8 720.0 L639.2 719.8 L639.6 719.5 L640.0 719.2 L640.4 719.8 L640.8 720.4 L641.2 720.8 L641.6 721.3 L642.0 720.3 L642.4 719.2 L642.8 717.3 L643.2 714.9 L643.6 713.8 L644.0 713.2 L644.4 714.2 L644.8 715.2 L645.2 716.4 L645.6 717.2 L646.0 717.1 L646.4 717.1 L646.8 717.0 L647.2 717.3 L647.6 717.7 L648.0 718.0 L648.4 718.3 L648.8 718.7 L649.2 719.0 L649.6 718.6 L650.0 718.1 L650.4 717.6 L650.8 718.0 L651.2 718.6 L651.6 719.1 L652.0 719.5 L652.4 719.5 L652.8 719.5 L653.3 719.6 L653.8 719.8" fill="none" stroke="#161616" stroke-width="0.85" stroke-linejoin="round"/>
<path d="M88.0 663.0 L88.5 661.3 L89.0 659.7 L89.4 659.2 L89.8 658.7 L90.2 658.1 L90.6 657.6 L91.0 656.8 L91.4 656.0 L91.8 656.2 L92.2 656.5 L92.6 656.8 L93.0 656.3 L93.4 655.7 L93.8 655.1 L94.2 654.2 L94.6 653.4 L95.0 652.1 L95.5 652.3 L96.0 652.6 L96.5 654.8 L97.0 657.1 L97.4 657.6 L97.8 658.1 L98.2 658.1 L98.6 656.5 L99.0 655.0 L99.4 653.9 L99.8 653.4 L100.2 652.9 L100.6 652.2 L101.0 653.0 L101.4 653.9 L101.8 654.8 L102.2 655.9 L102.6 656.9 L103.0 658.0 L103.4 657.9 L103.8 657.8 L104.2 657.6 L104.6 659.1 L105.0 660.6 L105.5 663.3 L106.0 666.0 L106.5 668.7 L107.0 671.4 L107.4 672.4 L107.8 673.5 L108.2 674.6 L108.6 675.8 L109.0 676.9 L109.4 678.1 L109.8 679.6 L110.2 680.9 L110.6 682.0 L111.0 682.8 L111.4 683.8 L111.8 684.9 L112.2 685.7 L112.6 686.5 L113.0 687.3 L113.4 686.6 L113.8 686.0 L114.2 685.8 L114.6 687.0 L115.0 688.1 L115.4 689.3 L115.8 690.6 L116.2 691.7 L116.6 692.8 L117.0 693.6 L117.4 694.7 L117.8 695.9 L118.2 696.7 L118.6 697.4 M119.4 678.6 L120.0 683.0 L120.5 683.8 L121.0 684.9 L121.4 685.7 L121.8 686.5 L122.2 687.3 L122.6 687.5 L123.0 687.7 L123.4 687.8 L123.8 689.0 L124.2 690.5 L124.6 691.9 L125.0 692.7 L125.4 693.5 L125.8 694.3 L126.2 694.5 L126.6 694.7 L127.0 694.9 L127.4 694.4 L127.8 694.2 L128.2 693.9 L128.6 694.2 L129.0 694.5 L129.4 694.8 L129.8 694.5 L130.2 693.8 L130.6 693.1 L131.0 693.9 L131.4 694.9 L131.8 696.6 L132.2 698.2 L132.6 699.3 L133.0 700.1 L133.4 700.9 L133.8 701.4 L134.2 702.1 L134.6 702.9 L135.0 702.6 L135.4 702.4 L135.8 702.2 L136.2 702.6 L136.6 702.7 L137.0 702.8 L137.4 703.4 L137.8 704.3 L138.2 705.1 L138.6 706.7 L139.0 708.2 L139.5 710.2 L140.0 712.3 L140.5 710.7 L141.0 709.1 L141.5 707.3 L142.0 705.1 L142.5 705.4 L143.0 705.7 L143.4 705.3 L143.8 705.0 L144.2 704.6 L144.6 705.9 L145.0 707.2 L145.4 708.4 L145.8 709.2 L146.2 709.9 L146.6 711.0 L147.0 712.3 L147.4 713.8 L147.8 714.6 L148.2 715.4 L148.6 716.3 L149.0 716.1 L149.4 715.5 L149.8 714.9 L150.2 714.4 L150.6 714.2 L151.0 714.0 L151.4 714.9 L151.8 715.5 L152.2 716.1 L152.6 716.8 L153.0 717.5 L153.4 718.5 L153.8 718.7 L154.2 718.9 L154.6 719.1 L155.0 718.8 L155.4 717.8 L155.8 716.8 L156.2 716.2 L156.6 716.1 L157.0 715.9 L157.4 716.3 L157.8 716.7 L158.2 716.9 L158.6 716.1 L159.0 715.3 L159.4 714.7 L159.8 714.6 L160.2 714.5 L160.6 714.3 L161.0 713.9 L161.4 713.3 L161.8 712.6 L162.2 713.1 L162.6 713.7 L163.0 714.2 L163.4 715.0 L163.8 715.5 L164.2 716.0 L164.6 716.2 L165.0 716.4 L165.4 716.8 L165.8 715.9 L166.2 715.0 L166.6 714.1 L167.0 713.7 L167.4 713.3 L167.8 712.6 L168.2 712.9 L168.6 713.4 L169.0 714.0 L169.4 715.1 L169.8 716.2 L170.2 717.1 L170.6 717.6 L171.0 718.1 L171.4 718.8 L171.8 718.6 L172.2 718.4 L172.6 718.1 L173.0 718.5 L173.4 718.8 L173.8 718.9 L174.2 719.3 L174.6 720.2 L175.0 721.0 L175.4 720.9 L175.8 720.6 L176.2 720.1 L176.6 719.3 L177.0 718.4 L177.4 717.7 L177.8 718.1 L178.2 718.6 L178.6 719.0 L179.0 719.7 L179.4 720.3 L179.8 720.9 L180.2 719.8 L180.6 718.6 L181.0 717.7 L181.4 716.2 L181.8 714.7 L182.2 713.2 L182.6 711.9 L183.0 710.2 L183.4 708.5 L183.8 708.0 L184.2 708.0 L184.6 708.0 L185.0 708.6 L185.4 709.0 L185.8 709.1 L186.2 708.3 L186.6 707.6 L187.0 707.3 L187.4 707.9 L187.8 708.4 L188.2 708.8 L188.6 709.9 L189.0 711.0 L189.4 709.3 L189.8 707.8 L190.2 706.9 L190.6 705.9 L191.0 705.0 L191.4 705.4 L191.8 705.9 L192.2 706.3 L192.6 705.4 L193.0 704.5 L193.4 703.6 L193.8 704.4 L194.2 705.3 L194.6 706.1 L195.0 706.6 L195.4 707.0 L195.8 707.1 L196.2 706.7 L196.6 706.5 L197.0 706.5 L197.5 708.9 L198.0 711.0 M199.6 608.0 L200.2 612.0 M201.0 619.0 L201.8 624.0 L202.6 628.0 L203.0 628.2 L203.4 628.7 L203.8 629.1 L204.2 630.0 L204.6 630.6 L205.0 631.0 L205.4 631.8 L205.8 632.5 L206.2 633.7 L206.6 634.8 L207.0 636.0 L207.4 637.2 L207.8 637.9 L208.2 638.6 L208.6 638.7 L209.0 638.5 L209.4 638.5 L209.8 638.8 L210.2 640.0 L210.6 641.3 L211.0 642.3 L211.4 643.4 L211.8 644.6 L212.2 645.8 L212.6 647.1 L213.0 648.5 L213.4 649.9 L213.8 650.7 L214.2 651.5 L214.6 652.2 L215.0 652.5 L215.4 652.7 L215.8 652.9 L216.2 653.8 L216.6 654.9 L217.0 655.9 L217.4 656.5 L217.8 657.1 L218.2 657.6 L218.6 657.8 L219.0 657.7 L219.4 657.6 L219.8 658.7 L220.2 659.9 L220.6 661.1 L221.1 662.5 L221.6 663.6 L222.0 664.0 L222.5 662.7 L223.0 661.7 L223.5 660.9 L224.0 660.1 L224.4 661.3 L224.8 662.3 L225.2 663.0 L225.6 663.4 L226.0 664.1 L226.4 664.9 L226.8 664.4 L227.2 663.9 L227.6 663.2 L228.0 663.6 L228.4 663.9 L228.8 664.2 L229.2 665.1 L229.6 666.1 L230.0 667.0 L230.4 667.8 L230.8 668.6 L231.2 669.3 L231.6 669.2 L232.0 669.1 L232.4 669.1 L232.8 668.4 L233.2 667.8 L233.6 667.1 L234.0 666.6 L234.4 666.0 L234.8 665.1 L235.2 665.5 L235.6 665.8 L236.0 666.3 L236.4 666.2 L236.8 666.1 L237.2 666.0 L237.6 666.5 L238.0 667.0 L238.4 667.3 L238.8 667.3 L239.2 667.3 L239.6 667.7 L240.0 669.0 L240.4 670.2 L240.8 671.3 L241.2 671.8 L241.6 672.2 L242.0 672.7 L242.4 673.1 L242.8 673.6 L243.2 674.1 L243.6 673.9 L244.0 673.6 L244.4 673.0 L244.8 673.3 L245.2 673.8 L245.6 674.5 L246.0 675.5 L246.4 676.5 L246.8 677.2 L247.2 678.0 L247.6 678.8 L248.0 679.8 L248.5 680.9 L249.0 682.0 L249.6 677.0 M250.0 665.0 L250.4 659.0 L251.0 658.5 L251.6 661.1 L252.0 663.2 L252.4 665.0 L253.2 669.0 L253.6 670.8 L254.0 672.9 L254.4 673.6 L254.8 674.2 L255.2 674.8 L255.6 674.5 L256.0 674.2 L256.4 673.9 L256.8 674.1 L257.2 674.5 L257.6 674.9 L258.0 675.7 L258.4 676.5 L258.8 677.2 L259.2 678.0 L259.6 678.4 L260.0 678.8 L260.4 679.2 L260.8 680.0 L261.2 680.9 L261.6 681.7 L262.0 682.5 L262.4 683.4 L262.8 683.0 L263.2 682.4 L263.6 681.8 L264.0 680.1 L264.4 678.8 L264.8 677.8 L265.2 676.7 L265.6 677.6 L266.0 678.3 L266.4 679.0 L266.8 679.7 L267.2 678.2 L267.6 676.9 L268.0 677.6 L268.4 678.3 L268.8 679.3 L269.2 680.1 L269.6 680.9 L270.0 681.7 L270.4 682.8 L270.8 684.0 L271.2 685.1 L271.6 686.2 L272.0 686.7 L272.4 687.0 L272.8 687.3 L273.2 686.9 L273.6 686.6 L274.0 686.4 L274.4 687.3 L274.8 688.2 L275.2 689.2 L275.6 690.3 L276.0 691.3 L276.4 692.0 L276.9 693.6 L277.4 695.7 L277.8 694.4 L278.2 693.0 M279.0 685.0 L279.4 682.7 L279.8 680.9 L280.3 681.4 L280.8 681.8 L281.2 682.1 L281.6 682.4 L282.0 682.6 L282.4 683.4 L282.8 684.3 L283.2 685.1 L283.6 686.1 L284.0 687.0 L284.4 687.4 L284.8 687.6 L285.2 688.1 L285.6 688.9 L286.0 689.6 L286.4 690.4 L286.8 690.8 L287.2 690.4 L287.6 690.0 L288.0 689.8 L288.4 690.3 L288.8 690.7 L289.2 691.1 L289.6 691.9 L290.0 692.4 L290.4 693.0 L290.8 694.3 L291.2 695.7 L291.6 696.5 L292.0 697.4 M293.2 608.0 L293.5 607.5 L293.8 607.4 L294.4 611.0 L295.2 617.0 L296.0 623.0 L297.0 629.0 L297.5 631.3 L298.0 634.0 L298.5 636.1 L299.0 638.2 L299.5 639.4 L300.0 640.1 L300.4 639.5 L300.8 638.9 L301.2 638.6 L301.6 638.9 L302.0 639.2 L302.4 639.5 L302.8 640.6 L303.2 641.6 L303.6 642.1 L304.0 643.0 L304.4 643.9 L304.8 644.8 L305.2 645.2 L305.6 645.6 L306.0 646.1 L306.4 645.5 L306.8 644.9 L307.2 644.0 L307.6 644.1 L308.0 644.5 L308.4 645.0 L308.8 645.8 L309.2 646.6 L309.6 647.2 L310.0 647.6 L310.4 648.0 L310.8 648.7 L311.2 649.2 L311.6 649.7 L312.0 650.2 L312.4 650.5 L312.8 650.6 L313.2 650.6 L313.6 650.7 L314.0 650.8 L314.4 651.2 L314.8 651.2 L315.2 651.1 L315.6 651.1 L316.0 651.8 L316.4 652.4 L316.8 652.7 L317.2 652.8 L317.6 653.2 L318.0 653.9 L318.4 654.3 L318.8 654.7 L319.2 654.8 L319.6 654.7 L320.0 654.7 L320.4 654.8 L320.8 654.0 L321.2 653.1 L321.6 651.7 L322.0 650.3 L322.5 648.6 L323.0 647.0 L323.5 647.0 L324.0 647.0 L324.4 646.8 L324.8 646.6 L325.2 646.3 L325.6 646.5 L326.0 646.7 L326.4 647.2 L326.8 648.7 L327.2 650.1 L327.6 650.6 L328.0 650.9 L328.4 651.0 L328.8 651.1 L329.2 651.3 L329.6 651.8 L330.0 652.6 L330.4 653.4 L330.8 654.3 L331.2 654.6 L331.6 654.6 L332.0 654.5 L332.4 654.6 L332.8 655.2 L333.2 655.9 L333.6 656.4 L334.0 657.0 L334.4 657.4 L334.8 658.0 L335.2 658.7 L335.6 659.7 L336.0 660.9 L336.4 662.1 L336.8 663.3 L337.2 664.4 L337.6 665.1 L338.0 665.9 L338.4 665.4 L338.8 665.2 L339.2 665.2 L339.6 664.9 L340.0 664.6 L340.4 664.3 L340.8 663.9 L341.2 663.4 L341.6 662.9 L342.0 661.8 L342.4 660.8 L342.8 660.0 L343.2 661.6 L343.6 663.2 L344.0 664.3 L344.4 665.1 L344.8 664.3 L345.2 663.7 L345.6 662.9 L346.0 662.1 L346.4 662.0 L346.8 661.5 L347.2 660.9 L347.6 661.0 L348.0 661.4 L348.4 662.0 L348.8 662.0 L349.2 662.0 L349.6 661.6 L350.0 661.5 L350.4 661.4 L350.8 661.8 L351.2 662.4 L351.6 662.9 L352.0 663.2 L352.4 663.4 L352.8 663.5 L353.2 663.8 L353.6 664.6 L354.0 665.4 L354.4 666.1 L354.8 666.8 L355.2 667.0 L355.6 667.2 L356.0 667.3 L356.4 667.7 L356.8 668.0 L357.2 668.0 L357.6 667.9 L358.0 667.5 L358.5 668.0 L359.0 668.7 L359.0 668.7 L359.4 669.3 L359.8 670.0 L360.2 671.6 L360.6 673.2 L361.0 673.4 L361.4 673.3 L361.8 673.1 L362.2 672.9 L362.6 672.8 L363.0 672.7 L363.4 671.1 L363.8 669.0 M365.0 652.0 L365.4 651.3 L365.8 650.9 L366.2 651.5 L366.6 652.1 L367.0 652.6 L367.4 652.9 L367.8 653.1 L368.2 653.8 L368.6 654.5 L369.0 655.2 L369.4 655.9 L369.8 656.7 L370.2 657.4 L370.6 658.0 L371.0 658.6 L371.4 659.4 L371.8 659.7 L372.2 660.0 L372.6 660.3 L373.0 660.3 L373.4 660.6 L373.8 660.9 L374.2 661.7 L374.6 662.5 L375.0 663.4 L375.4 663.8 L375.8 664.1 L376.2 664.4 L376.6 664.7 L377.0 665.3 L377.4 665.9 L377.8 666.8 L378.2 667.6 L378.6 668.5 L379.0 668.6 L379.4 668.8 L379.8 669.0 L380.2 669.5 L380.6 670.1 L381.0 670.7 L381.4 671.0 L381.8 671.3 L382.2 671.2 L382.6 671.2 L383.0 671.3 L383.4 671.8 L383.8 672.1 L384.2 672.3 L384.6 672.2 L385.1 672.3 L385.6 672.6 M386.8 653.0 L387.4 658.0 L387.8 659.3 L388.2 660.9 L388.6 662.1 L389.0 663.2 L389.4 664.4 L389.8 664.8 L390.2 665.3 L390.6 665.7 L391.0 666.3 L391.4 667.1 L391.8 668.0 L392.2 668.6 L392.6 669.2 L393.0 669.8 L393.5 669.7 L394.0 669.6 L394.5 668.3 L395.0 667.1 L395.4 666.8 L395.8 666.3 L396.2 666.4 L396.6 666.5 L397.0 666.7 L397.4 667.2 L397.8 667.6 L398.2 668.1 L398.6 668.5 L399.0 668.6 L399.4 668.6 L399.8 669.2 L400.2 669.8 L400.6 670.3 L401.0 670.9 L401.4 671.4 L401.8 671.7 L402.2 672.0 L402.6 672.2 L403.0 671.5 L403.4 670.8 L403.8 670.3 L404.2 669.2 L404.6 668.0 L405.0 667.6 L405.4 667.2 L405.8 668.0 L406.2 668.7 L406.6 667.9 L407.0 667.2 L407.4 668.0 L407.8 668.9 L408.2 668.6 L408.6 668.4 L409.0 668.2 L409.4 667.6 L409.8 666.8 L410.2 667.0 L410.6 667.2 L411.0 667.8 L411.4 668.7 L411.8 669.4 L412.2 670.0 L412.6 675.0 M413.4 635.0 L414.0 630.0 L414.3 630.7 L414.6 632.0 L415.2 636.0 L415.5 635.2 L415.8 635.0 M417.0 608.0 L417.3 608.7 L417.6 610.0 L418.2 616.0 L419.0 622.0 L419.8 627.0 L420.2 628.7 L420.6 631.0 L421.4 635.0 L422.2 639.4 L422.6 640.7 L423.0 642.5 L423.4 643.8 L423.8 645.2 L424.2 645.9 L424.6 646.4 L425.0 646.7 L425.4 646.5 L425.8 646.4 L426.2 646.7 L426.6 646.4 L427.0 646.0 L427.4 645.6 L427.8 645.4 L428.2 644.6 L428.6 643.8 L429.0 643.2 L429.4 642.9 L429.8 644.1 L430.2 645.3 L430.6 646.5 L431.0 647.5 L431.4 647.5 L431.8 647.6 L432.2 648.7 L432.6 649.9 L433.0 650.6 L433.4 651.2 L433.8 652.9 L434.2 654.1 L434.6 655.5 L435.0 656.8 L435.4 658.3 L435.8 659.9 L436.2 661.5 L436.6 663.0 L437.4 667.0 L437.8 667.9 L438.2 669.0 L438.6 668.5 L439.0 668.1 L439.4 667.7 L439.8 666.7 L440.2 665.7 L440.6 666.7 L441.0 667.9 L441.4 669.1 L441.8 670.3 L442.2 670.7 L442.6 671.0 L443.0 670.3 L443.4 669.8 L443.8 668.4 L444.2 667.1 L444.6 666.2 L445.0 665.3 L445.4 664.5 L445.8 663.8 L446.2 664.7 L446.6 665.9 L447.0 667.0 L447.4 668.2 L447.8 669.3 L448.2 670.1 L448.6 670.7 L449.0 671.2 L449.4 671.0 L449.8 670.8 L450.2 670.6 L450.6 669.9 L451.0 669.2 L451.4 668.4 L451.8 667.4 L452.2 666.9 L452.6 666.3 L453.0 667.1 L453.4 667.9 L453.8 669.0 L454.2 670.1 L454.6 670.8 L455.0 671.2 L455.4 671.8 L455.8 672.5 L456.2 673.4 L456.6 674.4 L457.0 675.2 L457.4 676.0 L457.8 676.6 L458.2 677.2 L458.6 676.1 L459.0 674.7 L459.4 673.2 L459.8 671.7 L460.2 671.9 L460.6 672.2 L461.0 672.5 L461.4 672.8 L461.8 673.0 L462.2 673.3 L462.6 673.7 L463.0 673.8 L463.4 673.9 L463.8 673.8 L464.2 674.0 L464.6 674.3 L465.0 674.6 L465.4 674.9 L465.8 675.2 L466.2 675.8 L466.6 675.8 L467.0 676.0 L467.4 676.2 L467.8 676.4 L468.2 676.8 L468.6 677.0 L469.0 677.3 L469.4 677.5 L469.8 678.4 L470.2 679.3 L470.6 679.6 L471.0 679.9 L471.4 679.2 L471.8 678.9 L472.2 680.0 L472.6 681.1 L473.0 681.7 L473.4 682.2 L473.8 682.4 L474.2 682.6 L474.6 682.7 L475.0 683.1 L475.4 683.6 L475.8 684.0 L476.2 684.5 L476.6 684.9 L477.0 685.2 L477.4 685.3 L477.8 685.5 L478.2 685.8 L478.6 686.1 L479.0 686.5 L479.4 686.8 L479.8 686.2 L480.2 685.0 L480.6 684.1 L481.0 683.7 L481.4 684.2 L481.8 684.8 L482.2 685.7 L482.6 686.2 L483.0 685.6 L483.4 684.9 L483.8 683.7 L484.2 682.7 L484.6 682.4 L485.0 682.0 L485.4 683.1 L485.8 684.2 L486.2 685.8 L486.6 687.2 L487.0 688.5 L487.4 689.8 L487.8 690.7 L488.2 691.8 L488.6 693.2 L489.0 694.7 L489.4 695.8 L489.8 696.9 L490.2 696.5 L490.6 696.0 L491.0 694.3 L491.4 692.7 L491.8 691.4 L492.2 690.0 L492.6 689.6 L493.0 689.3 L493.4 690.0 L493.8 690.6 L494.2 690.9 L494.6 691.1 L495.0 690.5 L495.4 689.9 L495.7 689.7 L496.0 689.5 L496.0 689.5 L496.5 690.4 L497.0 691.1 L497.5 690.6 L498.0 690.3 L498.4 691.7 L498.8 693.1 L499.2 694.2 L499.6 695.3 L500.0 694.6 L500.4 694.0 M501.2 685.0 L501.8 680.6 L502.4 681.9 L502.8 684.1 L503.2 686.2 L503.6 687.7 L504.0 689.1 L504.4 689.8 L504.8 690.4 L505.2 691.2 L505.6 691.5 L506.0 691.8 L506.4 692.0 L506.8 691.8 L507.2 691.5 L507.6 691.3 L508.0 691.6 L508.4 691.9 L508.8 692.7 L509.2 693.5 L509.6 694.3 L510.0 695.0 L510.4 695.4 L510.8 695.8 L511.2 696.4 L511.6 697.2 L512.0 698.0 L512.4 698.8 L512.8 699.6 L513.2 700.0 L513.6 700.5 L514.0 701.0 L514.4 701.6 L514.8 702.4 L515.2 702.8 L515.6 703.2 L516.0 703.6 L516.4 704.0 L516.8 703.9 L517.2 703.9 L517.6 704.1 L518.0 704.6 L518.4 705.0 L518.8 705.2 L519.2 705.5 L519.6 705.5 L520.0 705.5 L520.4 705.5 L520.8 705.8 L521.2 706.2 L521.6 706.5 L522.0 706.9 L522.5 707.3 L523.0 707.4 L523.6 703.0 L524.2 698.6 L524.6 698.7 L525.0 699.3 L525.5 700.3 L526.0 701.3 L526.4 702.0 L526.8 702.3 L527.2 702.6 L527.6 702.6 L528.0 702.7 L528.4 703.1 L528.8 703.0 L529.2 703.0 L529.6 702.9 L530.0 702.6 L530.4 702.1 L530.8 701.4 L531.2 701.7 L531.6 702.0 L532.0 702.7 L532.4 703.4 L532.8 704.1 L533.2 704.7 L533.6 705.2 L534.0 705.6 L534.4 705.6 L534.8 705.6 L535.2 705.5 L535.6 705.5 L536.0 705.9 L536.4 706.3 L536.8 706.6 L537.2 706.6 L537.6 706.6 L538.0 706.2 L538.4 706.7 L538.8 707.1 L539.2 707.8 L539.6 708.4 L540.0 709.0 L540.4 709.7 L540.8 710.7 L541.2 711.5 L541.6 712.3 L542.0 711.6 L542.4 710.9 L542.8 710.1 L543.2 709.3 L543.6 708.7 L544.0 708.0 L544.4 707.3 L544.8 706.7 L545.2 707.7 L545.6 708.6 L546.0 709.4 L546.4 710.2 L546.8 709.8 L547.2 709.1 L547.6 709.9 L548.0 710.7 L548.4 712.2 L548.8 714.0 M550.8 551.2 L551.3 551.0 L551.8 551.2 M556.0 617.0 L556.8 623.0 L557.6 629.0 L558.4 634.0 L558.8 635.3 L559.2 636.9 L559.6 638.2 L560.0 639.5 L560.4 640.5 L560.8 641.2 L561.2 640.9 L561.6 640.5 L562.0 640.4 L562.4 640.0 L562.8 639.6 L563.2 639.2 L563.6 638.1 L564.0 636.7 L564.4 636.1 L564.8 635.6 L565.2 637.3 L565.6 639.0 L566.4 644.0 L567.2 650.0 M568.8 664.0 L569.6 669.0 L570.4 673.0 L570.8 674.3 L571.2 676.0 L572.0 680.0 M573.6 699.0 L574.4 705.0 L574.8 704.3 L575.2 703.9 L575.6 703.6 L576.0 703.3 L576.4 702.8 L576.8 702.1 L577.2 701.4 L577.6 700.7 L578.0 699.8 L578.4 698.9 L578.8 698.5 L579.2 698.2 L579.6 697.8 L580.0 697.1 L580.4 696.7 L580.8 696.3 L581.2 696.8 L581.6 697.4 L582.0 696.9 L582.4 696.3 L582.8 695.6 L583.2 694.9 L583.6 695.7 L584.0 696.8 L584.4 698.2 L584.8 699.5 L585.2 700.6 L585.6 701.6 L586.0 702.2 L586.4 702.9 L586.8 702.2 L587.2 701.8 L587.6 700.5 L588.0 699.1 L588.4 698.2 L588.8 697.4 L589.2 696.2 L589.6 694.9 L590.0 694.2 L590.4 693.7 L590.8 693.3 L591.2 693.0 L591.6 692.6 L592.0 692.3 L592.4 692.6 L592.8 692.6 L593.2 693.1 L593.6 693.7 L594.0 694.4 L594.4 695.1 L594.8 695.1 L595.2 694.8 L595.6 695.3 L596.0 695.8 L596.4 696.2 L596.8 696.9 L597.2 696.5 L597.6 696.2 L598.0 697.3 L598.4 698.2 L598.8 698.6 L599.2 699.1 L599.6 699.7 L600.0 700.4 L600.4 702.3 L600.8 704.2 L601.2 705.8 L601.6 707.3 L602.0 706.1 L602.4 704.9 L602.8 703.5 L603.2 702.3 L603.6 702.1 L604.0 702.0 L604.4 703.1 L604.8 704.3 L605.2 705.4 L605.6 706.2 L606.0 706.4 L606.4 706.6 L606.8 707.1 L607.2 707.6 L607.6 708.2 L608.0 708.7 L608.4 708.8 L608.8 709.0 L609.2 708.9 L609.6 709.1 L610.0 709.4 L610.4 709.9 L610.8 710.4 L611.2 710.9 L611.6 710.5 L612.0 710.1 L612.4 709.7 L612.8 710.2 L613.2 710.9 L613.6 711.5 L614.0 711.8 L614.4 712.1 L614.8 712.2 L615.2 712.3 L615.6 712.5 L616.0 712.7 L616.4 713.3 L616.8 714.0 L617.2 714.6 L617.6 715.0 L618.0 715.4 L618.4 715.7 L618.8 715.9 L619.2 716.1 L619.6 716.3 L620.0 716.8 L620.4 717.4 L620.8 718.0 L621.2 717.9 L621.6 717.8 L622.0 717.8 L622.4 717.9 L622.8 718.0 L623.2 718.3 L623.6 718.6 L624.0 719.0 L624.4 719.3 L624.8 718.7 L625.2 717.9 L625.6 717.4 L626.4 713.4 L626.8 712.8 L627.2 712.6 L627.6 713.4 L628.0 714.0 L628.8 718.0 L629.2 719.8 L629.6 722.0 L629.9 723.1 L630.2 724.0 L630.8 721.0 L631.6 716.6 L632.0 714.8 L632.4 713.4 L632.8 714.1 L633.2 714.9 L633.6 715.4 L634.0 715.9 L634.4 716.1 L634.8 716.6 L635.2 717.0 L635.6 717.7 L636.0 718.3 L636.4 718.7 L636.8 718.8 L637.2 719.0 L637.6 719.2 L638.0 719.5 L638.4 719.7 L638.8 720.0 L639.2 719.8 L639.6 719.5 L640.0 719.2 L640.4 719.8 L640.8 720.4 L641.2 720.8 L641.6 721.3 L642.0 720.3 L642.4 719.2 L642.8 717.3 L643.2 714.9 L643.6 713.8 L644.0 713.2 L644.4 714.2 L644.8 715.2 L645.2 716.4 L645.6 717.2 L646.0 717.1 L646.4 717.1 L646.8 717.0 L647.2 717.3 L647.6 717.7 L648.0 718.0 L648.4 718.3 L648.8 718.7 L649.2 719.0 L649.6 718.6 L650.0 718.1 L650.4 717.6 L650.8 718.0 L651.2 718.6 L651.6 719.1 L652.0 719.5 L652.4 719.5 L652.8 719.5 L653.3 719.6 L653.8 719.8" fill="none" stroke="#111" stroke-width="1.25" stroke-linejoin="round" stroke-linecap="round"/>
<text x="342.74" y="207.90" font-size="19.2">CG</text>
<text x="532.44" y="217.90" font-size="19.2">CG</text>
<text x="301.84" y="486.70" font-size="19.2">CG</text>
<text x="597.44" y="496.40" font-size="19.2">CG</text>
<text x="182.14" y="599.70" font-size="19.2">CG</text>
<text x="540.94" y="548.20" font-size="19.2">CG</text>
<text x="285.07" y="832.00">Local time (hrs)</text>
<text transform="translate(20.2,484.0) rotate(-90)" style="font-variant-ligatures:none">Electric field (kV m<tspan font-size="11.5" dy="-11">-1</tspan><tspan dy="11">)</tspan></text>
</g></svg>
</body></html>
